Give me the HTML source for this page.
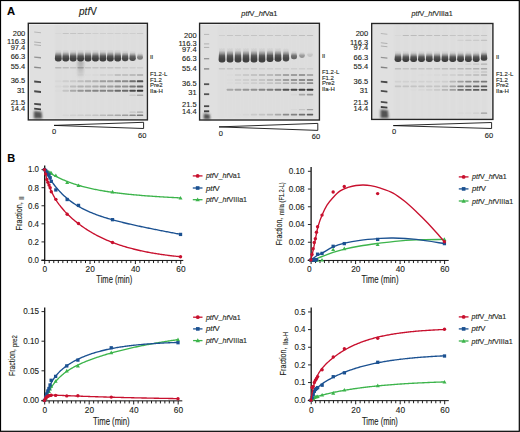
<!DOCTYPE html><html><head><meta charset="utf-8"><style>html,body{margin:0;padding:0;background:#fff;overflow:hidden}svg{display:block}text{font-family:"Liberation Sans",sans-serif;stroke:#231f20;stroke-width:0.12px}</style></head><body>
<svg width="520" height="432" viewBox="0 0 520 432">
<defs>
<filter id="b06" x="-50%" y="-50%" width="200%" height="200%"><feGaussianBlur stdDeviation="0.6"/></filter>
<filter id="b08" x="-50%" y="-50%" width="200%" height="200%"><feGaussianBlur stdDeviation="0.8"/></filter>
<filter id="b12" x="-50%" y="-50%" width="200%" height="200%"><feGaussianBlur stdDeviation="1.2"/></filter>
<linearGradient id="gII" x1="0" y1="0" x2="0" y2="1">
<stop offset="0" stop-color="#4a4a4a" stop-opacity="0"/>
<stop offset="0.22" stop-color="#4a4a4a" stop-opacity="0.12"/>
<stop offset="0.4" stop-color="#4a4a4a" stop-opacity="0.5"/>
<stop offset="0.55" stop-color="#474747" stop-opacity="0.88"/>
<stop offset="0.75" stop-color="#424242" stop-opacity="1"/>
<stop offset="1" stop-color="#404040" stop-opacity="1"/>
</linearGradient>
<linearGradient id="gSm" x1="0" y1="0" x2="0" y2="1">
<stop offset="0" stop-color="#777" stop-opacity="0.9"/>
<stop offset="0.6" stop-color="#888" stop-opacity="0.5"/>
<stop offset="1" stop-color="#999" stop-opacity="0"/>
</linearGradient>
<filter id="b05" x="-50%" y="-50%" width="200%" height="200%"><feGaussianBlur stdDeviation="0.5"/></filter>
</defs>
<rect x="0" y="0" width="520" height="432" fill="#fff"/>
<rect x="28.3" y="23.3" width="119.10000000000001" height="96.60000000000001" fill="#e0e0e0"/>
<rect x="28.900000000000002" y="23.900000000000002" width="117.9" height="95.4" fill="none" stroke="#f4f4f4" stroke-width="1.2"/>
<rect x="55.10" y="24.3" width="6.40" height="94.60000000000001" fill="#d8d8d8" opacity="0.35" filter="url(#b08)"/>
<rect x="62.53" y="24.3" width="6.40" height="94.60000000000001" fill="#d8d8d8" opacity="0.35" filter="url(#b08)"/>
<rect x="69.96" y="24.3" width="6.40" height="94.60000000000001" fill="#d8d8d8" opacity="0.35" filter="url(#b08)"/>
<rect x="77.39" y="24.3" width="6.40" height="94.60000000000001" fill="#d8d8d8" opacity="0.35" filter="url(#b08)"/>
<rect x="84.82" y="24.3" width="6.40" height="94.60000000000001" fill="#d8d8d8" opacity="0.35" filter="url(#b08)"/>
<rect x="92.25" y="24.3" width="6.40" height="94.60000000000001" fill="#d8d8d8" opacity="0.35" filter="url(#b08)"/>
<rect x="99.68" y="24.3" width="6.40" height="94.60000000000001" fill="#d8d8d8" opacity="0.35" filter="url(#b08)"/>
<rect x="107.11" y="24.3" width="6.40" height="94.60000000000001" fill="#d8d8d8" opacity="0.35" filter="url(#b08)"/>
<rect x="114.54" y="24.3" width="6.40" height="94.60000000000001" fill="#d8d8d8" opacity="0.35" filter="url(#b08)"/>
<rect x="121.97" y="24.3" width="6.40" height="94.60000000000001" fill="#d8d8d8" opacity="0.35" filter="url(#b08)"/>
<rect x="129.40" y="24.3" width="6.40" height="94.60000000000001" fill="#d8d8d8" opacity="0.35" filter="url(#b08)"/>
<rect x="136.83" y="24.3" width="6.40" height="94.60000000000001" fill="#d8d8d8" opacity="0.35" filter="url(#b08)"/>
<path d="M34.20,31.55 L41.00,32.25 L41.00,33.25 L34.20,32.55 Z" fill="rgb(183,183,183)" filter="url(#b06)"/>
<path d="M34.20,41.55 L41.00,42.25 L41.00,43.25 L34.20,42.55 Z" fill="rgb(175,175,175)" filter="url(#b06)"/>
<path d="M34.20,44.25 L41.00,44.95 L41.00,45.95 L34.20,45.25 Z" fill="rgb(175,175,175)" filter="url(#b06)"/>
<path d="M34.20,56.40 L41.00,57.10 L41.00,58.40 L34.20,57.70 Z" fill="rgb(149,149,149)" filter="url(#b06)"/>
<path d="M34.20,66.60 L41.00,67.30 L41.00,68.60 L34.20,67.90 Z" fill="rgb(139,139,139)" filter="url(#b06)"/>
<path d="M34.20,80.50 L41.00,81.20 L41.00,83.10 L34.20,82.40 Z" fill="rgb(73,73,73)" filter="url(#b06)"/>
<path d="M34.20,90.30 L41.00,91.00 L41.00,92.90 L34.20,92.20 Z" fill="rgb(73,73,73)" filter="url(#b06)"/>
<path d="M34.20,102.90 L41.00,103.60 L41.00,105.50 L34.20,104.80 Z" fill="rgb(73,73,73)" filter="url(#b06)"/>
<path d="M34.20,107.70 L41.00,108.40 L41.00,110.30 L34.20,109.60 Z" fill="rgb(63,63,63)" filter="url(#b06)"/>
<path d="M33.90,111.00 L41.50,111.80 L42.20,118.60 L33.90,118.60 Z" fill="#3a3a3a" opacity="0.85" filter="url(#b08)"/>
<rect x="55.10" y="33.10" width="6.40" height="1.0" rx="0.6" fill="rgb(215,215,215)" filter="url(#b06)"/>
<rect x="62.53" y="33.10" width="6.40" height="1.0" rx="0.6" fill="rgb(196,196,196)" filter="url(#b06)"/>
<rect x="69.96" y="33.10" width="6.40" height="1.0" rx="0.6" fill="rgb(196,196,196)" filter="url(#b06)"/>
<rect x="77.39" y="33.10" width="6.40" height="1.0" rx="0.6" fill="rgb(196,196,196)" filter="url(#b06)"/>
<rect x="84.82" y="33.10" width="6.40" height="1.0" rx="0.6" fill="rgb(202,202,202)" filter="url(#b06)"/>
<rect x="92.25" y="33.10" width="6.40" height="1.0" rx="0.6" fill="rgb(206,206,206)" filter="url(#b06)"/>
<rect x="99.68" y="33.10" width="6.40" height="1.0" rx="0.6" fill="rgb(206,206,206)" filter="url(#b06)"/>
<rect x="107.11" y="33.10" width="6.40" height="1.0" rx="0.6" fill="rgb(206,206,206)" filter="url(#b06)"/>
<rect x="114.54" y="33.10" width="6.40" height="1.0" rx="0.6" fill="rgb(206,206,206)" filter="url(#b06)"/>
<rect x="121.97" y="33.10" width="6.40" height="1.0" rx="0.6" fill="rgb(206,206,206)" filter="url(#b06)"/>
<rect x="129.40" y="33.10" width="6.40" height="1.0" rx="0.6" fill="rgb(206,206,206)" filter="url(#b06)"/>
<rect x="136.83" y="33.10" width="6.40" height="1.0" rx="0.6" fill="rgb(202,202,202)" filter="url(#b06)"/>
<rect x="55.10" y="66.95" width="6.40" height="1.5" rx="0.6" fill="rgb(183,183,183)" filter="url(#b06)"/>
<rect x="62.53" y="66.95" width="6.40" height="1.5" rx="0.6" fill="rgb(187,187,187)" filter="url(#b06)"/>
<rect x="69.96" y="66.95" width="6.40" height="1.5" rx="0.6" fill="rgb(196,196,196)" filter="url(#b06)"/>
<rect x="77.39" y="66.95" width="6.40" height="1.5" rx="0.6" fill="rgb(168,168,168)" filter="url(#b06)"/>
<rect x="84.82" y="66.95" width="6.40" height="1.5" rx="0.6" fill="rgb(196,196,196)" filter="url(#b06)"/>
<rect x="92.25" y="66.95" width="6.40" height="1.5" rx="0.6" fill="rgb(196,196,196)" filter="url(#b06)"/>
<rect x="99.68" y="66.95" width="6.40" height="1.5" rx="0.6" fill="rgb(196,196,196)" filter="url(#b06)"/>
<rect x="107.11" y="66.95" width="6.40" height="1.5" rx="0.6" fill="rgb(196,196,196)" filter="url(#b06)"/>
<rect x="114.54" y="66.95" width="6.40" height="1.5" rx="0.6" fill="rgb(196,196,196)" filter="url(#b06)"/>
<rect x="121.97" y="66.95" width="6.40" height="1.5" rx="0.6" fill="rgb(202,202,202)" filter="url(#b06)"/>
<rect x="129.40" y="66.95" width="6.40" height="1.5" rx="0.6" fill="rgb(206,206,206)" filter="url(#b06)"/>
<rect x="136.83" y="66.95" width="6.40" height="1.5" rx="0.6" fill="rgb(206,206,206)" filter="url(#b06)"/>
<rect x="77.39" y="74.15" width="6.40" height="1.5" rx="0.6" fill="rgb(213,213,213)" filter="url(#b06)"/>
<rect x="84.82" y="74.15" width="6.40" height="1.5" rx="0.6" fill="rgb(219,219,219)" filter="url(#b06)"/>
<rect x="92.25" y="74.15" width="6.40" height="1.5" rx="0.6" fill="rgb(215,215,215)" filter="url(#b06)"/>
<rect x="99.68" y="74.15" width="6.40" height="1.5" rx="0.6" fill="rgb(206,206,206)" filter="url(#b06)"/>
<rect x="107.11" y="74.15" width="6.40" height="1.5" rx="0.6" fill="rgb(206,206,206)" filter="url(#b06)"/>
<rect x="114.54" y="74.15" width="6.40" height="1.5" rx="0.6" fill="rgb(183,183,183)" filter="url(#b06)"/>
<rect x="121.97" y="74.15" width="6.40" height="1.5" rx="0.6" fill="rgb(187,187,187)" filter="url(#b06)"/>
<rect x="129.40" y="74.15" width="6.40" height="1.5" rx="0.6" fill="rgb(177,177,177)" filter="url(#b06)"/>
<rect x="136.83" y="74.15" width="6.40" height="1.5" rx="0.6" fill="rgb(168,168,168)" filter="url(#b06)"/>
<rect x="55.10" y="80.35" width="6.40" height="1.9" rx="0.6" fill="rgb(215,215,215)" filter="url(#b06)"/>
<rect x="62.53" y="80.35" width="6.40" height="1.9" rx="0.6" fill="rgb(206,206,206)" filter="url(#b06)"/>
<rect x="69.96" y="80.35" width="6.40" height="1.9" rx="0.6" fill="rgb(202,202,202)" filter="url(#b06)"/>
<rect x="77.39" y="80.35" width="6.40" height="1.9" rx="0.6" fill="rgb(190,190,190)" filter="url(#b06)"/>
<rect x="84.82" y="80.35" width="6.40" height="1.9" rx="0.6" fill="rgb(183,183,183)" filter="url(#b06)"/>
<rect x="92.25" y="80.35" width="6.40" height="1.9" rx="0.6" fill="rgb(177,177,177)" filter="url(#b06)"/>
<rect x="99.68" y="80.35" width="6.40" height="1.9" rx="0.6" fill="rgb(158,158,158)" filter="url(#b06)"/>
<rect x="107.11" y="80.35" width="6.40" height="1.9" rx="0.6" fill="rgb(158,158,158)" filter="url(#b06)"/>
<rect x="114.54" y="80.35" width="6.40" height="1.9" rx="0.6" fill="rgb(139,139,139)" filter="url(#b06)"/>
<rect x="121.97" y="80.35" width="6.40" height="1.9" rx="0.6" fill="rgb(139,139,139)" filter="url(#b06)"/>
<rect x="129.40" y="80.35" width="6.40" height="1.9" rx="0.6" fill="rgb(111,111,111)" filter="url(#b06)"/>
<rect x="136.83" y="80.35" width="6.40" height="1.9" rx="0.6" fill="rgb(82,82,82)" filter="url(#b06)"/>
<rect x="55.10" y="85.55" width="6.40" height="1.9" rx="0.6" fill="rgb(215,215,215)" filter="url(#b06)"/>
<rect x="62.53" y="85.55" width="6.40" height="1.9" rx="0.6" fill="rgb(206,206,206)" filter="url(#b06)"/>
<rect x="69.96" y="85.55" width="6.40" height="1.9" rx="0.6" fill="rgb(187,187,187)" filter="url(#b06)"/>
<rect x="77.39" y="85.55" width="6.40" height="1.9" rx="0.6" fill="rgb(177,177,177)" filter="url(#b06)"/>
<rect x="84.82" y="85.55" width="6.40" height="1.9" rx="0.6" fill="rgb(177,177,177)" filter="url(#b06)"/>
<rect x="92.25" y="85.55" width="6.40" height="1.9" rx="0.6" fill="rgb(171,171,171)" filter="url(#b06)"/>
<rect x="99.68" y="85.55" width="6.40" height="1.9" rx="0.6" fill="rgb(158,158,158)" filter="url(#b06)"/>
<rect x="107.11" y="85.55" width="6.40" height="1.9" rx="0.6" fill="rgb(158,158,158)" filter="url(#b06)"/>
<rect x="114.54" y="85.55" width="6.40" height="1.9" rx="0.6" fill="rgb(145,145,145)" filter="url(#b06)"/>
<rect x="121.97" y="85.55" width="6.40" height="1.9" rx="0.6" fill="rgb(145,145,145)" filter="url(#b06)"/>
<rect x="129.40" y="85.55" width="6.40" height="1.9" rx="0.6" fill="rgb(120,120,120)" filter="url(#b06)"/>
<rect x="136.83" y="85.55" width="6.40" height="1.9" rx="0.6" fill="rgb(101,101,101)" filter="url(#b06)"/>
<rect x="55.10" y="89.70" width="6.40" height="2.0" rx="0.6" fill="rgb(219,219,219)" filter="url(#b06)"/>
<rect x="62.53" y="89.70" width="6.40" height="2.0" rx="0.6" fill="rgb(196,196,196)" filter="url(#b06)"/>
<rect x="69.96" y="89.70" width="6.40" height="2.0" rx="0.6" fill="rgb(168,168,168)" filter="url(#b06)"/>
<rect x="77.39" y="89.70" width="6.40" height="2.0" rx="0.6" fill="rgb(149,149,149)" filter="url(#b06)"/>
<rect x="84.82" y="89.70" width="6.40" height="2.0" rx="0.6" fill="rgb(139,139,139)" filter="url(#b06)"/>
<rect x="92.25" y="89.70" width="6.40" height="2.0" rx="0.6" fill="rgb(133,133,133)" filter="url(#b06)"/>
<rect x="99.68" y="89.70" width="6.40" height="2.0" rx="0.6" fill="rgb(130,130,130)" filter="url(#b06)"/>
<rect x="107.11" y="89.70" width="6.40" height="2.0" rx="0.6" fill="rgb(130,130,130)" filter="url(#b06)"/>
<rect x="114.54" y="89.70" width="6.40" height="2.0" rx="0.6" fill="rgb(107,107,107)" filter="url(#b06)"/>
<rect x="121.97" y="89.70" width="6.40" height="2.0" rx="0.6" fill="rgb(107,107,107)" filter="url(#b06)"/>
<rect x="129.40" y="89.70" width="6.40" height="2.0" rx="0.6" fill="rgb(76,76,76)" filter="url(#b06)"/>
<rect x="136.83" y="89.70" width="6.40" height="2.0" rx="0.6" fill="rgb(54,54,54)" filter="url(#b06)"/>
<rect x="129.40" y="94.55" width="6.40" height="1.5" rx="0.6" fill="rgb(202,202,202)" filter="url(#b06)"/>
<rect x="136.83" y="94.55" width="6.40" height="1.5" rx="0.6" fill="rgb(168,168,168)" filter="url(#b06)"/>
<rect x="129.40" y="111.60" width="6.40" height="1.2" rx="0.6" fill="rgb(196,196,196)" filter="url(#b06)"/>
<rect x="136.83" y="111.60" width="6.40" height="1.2" rx="0.6" fill="rgb(168,168,168)" filter="url(#b06)"/>
<rect x="62.53" y="114.55" width="6.40" height="1.5" rx="0.6" fill="rgb(215,215,215)" filter="url(#b06)"/>
<rect x="69.96" y="114.55" width="6.40" height="1.5" rx="0.6" fill="rgb(209,209,209)" filter="url(#b06)"/>
<rect x="77.39" y="114.55" width="6.40" height="1.5" rx="0.6" fill="rgb(206,206,206)" filter="url(#b06)"/>
<rect x="84.82" y="114.55" width="6.40" height="1.5" rx="0.6" fill="rgb(202,202,202)" filter="url(#b06)"/>
<rect x="92.25" y="114.55" width="6.40" height="1.5" rx="0.6" fill="rgb(196,196,196)" filter="url(#b06)"/>
<rect x="99.68" y="114.55" width="6.40" height="1.5" rx="0.6" fill="rgb(187,187,187)" filter="url(#b06)"/>
<rect x="107.11" y="114.55" width="6.40" height="1.5" rx="0.6" fill="rgb(177,177,177)" filter="url(#b06)"/>
<rect x="114.54" y="114.55" width="6.40" height="1.5" rx="0.6" fill="rgb(168,168,168)" filter="url(#b06)"/>
<rect x="121.97" y="114.55" width="6.40" height="1.5" rx="0.6" fill="rgb(158,158,158)" filter="url(#b06)"/>
<rect x="129.40" y="114.55" width="6.40" height="1.5" rx="0.6" fill="rgb(139,139,139)" filter="url(#b06)"/>
<rect x="136.83" y="114.55" width="6.40" height="1.5" rx="0.6" fill="rgb(120,120,120)" filter="url(#b06)"/>
<rect x="77.49" y="61.0" width="6.20" height="18.0" fill="url(#gSm)" opacity="0.55" filter="url(#b08)"/>
<path d="M55.65,49.50 L60.95,49.50 L61.75,59.10 Q61.75,61.50 59.35,61.50 L57.25,61.50 Q54.85,61.50 54.85,59.10 Z" fill="url(#gII)" opacity="1.00" filter="url(#b05)"/>
<path d="M63.08,49.50 L68.38,49.50 L69.18,59.10 Q69.18,61.50 66.78,61.50 L64.68,61.50 Q62.28,61.50 62.28,59.10 Z" fill="url(#gII)" opacity="1.00" filter="url(#b05)"/>
<path d="M70.51,49.50 L75.81,49.50 L76.61,59.10 Q76.61,61.50 74.21,61.50 L72.11,61.50 Q69.71,61.50 69.71,59.10 Z" fill="url(#gII)" opacity="1.00" filter="url(#b05)"/>
<path d="M77.94,49.50 L83.24,49.50 L84.04,59.10 Q84.04,61.50 81.64,61.50 L79.54,61.50 Q77.14,61.50 77.14,59.10 Z" fill="url(#gII)" opacity="1.00" filter="url(#b05)"/>
<path d="M85.37,49.50 L90.67,49.50 L91.47,59.10 Q91.47,61.50 89.07,61.50 L86.97,61.50 Q84.57,61.50 84.57,59.10 Z" fill="url(#gII)" opacity="1.00" filter="url(#b05)"/>
<path d="M92.80,49.50 L98.10,49.50 L98.90,59.10 Q98.90,61.50 96.50,61.50 L94.40,61.50 Q92.00,61.50 92.00,59.10 Z" fill="url(#gII)" opacity="1.00" filter="url(#b05)"/>
<path d="M100.23,49.50 L105.53,49.50 L106.33,59.10 Q106.33,61.50 103.93,61.50 L101.83,61.50 Q99.43,61.50 99.43,59.10 Z" fill="url(#gII)" opacity="1.00" filter="url(#b05)"/>
<path d="M107.66,49.50 L112.96,49.50 L113.76,59.10 Q113.76,61.50 111.36,61.50 L109.26,61.50 Q106.86,61.50 106.86,59.10 Z" fill="url(#gII)" opacity="1.00" filter="url(#b05)"/>
<path d="M115.09,49.50 L120.39,49.50 L121.19,59.10 Q121.19,61.50 118.79,61.50 L116.69,61.50 Q114.29,61.50 114.29,59.10 Z" fill="url(#gII)" opacity="1.00" filter="url(#b05)"/>
<path d="M122.72,50.00 L127.62,50.00 L128.42,58.80 Q128.42,61.20 126.02,61.20 L124.32,61.20 Q121.92,61.20 121.92,58.80 Z" fill="url(#gII)" opacity="0.95" filter="url(#b05)"/>
<path d="M130.15,50.50 L135.05,50.50 L135.85,58.60 Q135.85,61.00 133.45,61.00 L131.75,61.00 Q129.35,61.00 129.35,58.60 Z" fill="url(#gII)" opacity="0.90" filter="url(#b05)"/>
<path d="M137.88,52.00 L142.18,52.00 L142.98,57.40 Q142.98,59.80 140.58,59.80 L139.48,59.80 Q137.08,59.80 137.08,57.40 Z" fill="url(#gII)" opacity="0.62" filter="url(#b05)"/>
<rect x="28.3" y="23.3" width="119.10000000000001" height="96.60000000000001" fill="none" stroke="#262626" stroke-width="1.4"/>
<text x="25.3" y="35.7" font-size="7.5" text-anchor="end" fill="#231f20">200</text>
<text x="25.3" y="43.9" font-size="7.5" text-anchor="end" fill="#231f20">116.3</text>
<text x="25.3" y="49.9" font-size="7.5" text-anchor="end" fill="#231f20">97.4</text>
<text x="25.3" y="59.0" font-size="7.5" text-anchor="end" fill="#231f20">66.3</text>
<text x="25.3" y="69.0" font-size="7.5" text-anchor="end" fill="#231f20">55.4</text>
<text x="25.3" y="83.4" font-size="7.5" text-anchor="end" fill="#231f20">36.5</text>
<text x="25.3" y="92.6" font-size="7.5" text-anchor="end" fill="#231f20">31</text>
<text x="25.3" y="104.6" font-size="7.5" text-anchor="end" fill="#231f20">21.5</text>
<text x="25.3" y="111.1" font-size="7.5" text-anchor="end" fill="#231f20">14.4</text>
<text x="149.9" y="59.1" font-size="6" fill="#231f20">II</text>
<text x="149.9" y="75.6" font-size="6" fill="#231f20">F1.2-L</text>
<text x="149.9" y="81.5" font-size="6" fill="#231f20">F1.2</text>
<text x="149.9" y="87.1" font-size="6" fill="#231f20">Pre2</text>
<text x="149.9" y="92.7" font-size="6" fill="#231f20">IIa-H</text>
<path d="M54,125.4 L143.6,122.3 L143.6,128.5 Z" fill="#fff" stroke="#111" stroke-width="0.9" stroke-linejoin="miter"/>
<text x="54.1" y="133.5" font-size="7.5" text-anchor="middle" fill="#231f20">0</text>
<text x="142.2" y="137.8" font-size="7.5" text-anchor="middle" fill="#231f20">60</text>
<rect x="199.6" y="23.3" width="119.79999999999998" height="96.7" fill="#e0e0e0"/>
<rect x="200.2" y="23.900000000000002" width="118.59999999999998" height="95.5" fill="none" stroke="#f4f4f4" stroke-width="1.2"/>
<rect x="218.80" y="24.3" width="6.40" height="94.7" fill="#d8d8d8" opacity="0.35" filter="url(#b08)"/>
<rect x="226.80" y="24.3" width="6.40" height="94.7" fill="#d8d8d8" opacity="0.35" filter="url(#b08)"/>
<rect x="234.80" y="24.3" width="6.40" height="94.7" fill="#d8d8d8" opacity="0.35" filter="url(#b08)"/>
<rect x="242.80" y="24.3" width="6.40" height="94.7" fill="#d8d8d8" opacity="0.35" filter="url(#b08)"/>
<rect x="250.80" y="24.3" width="6.40" height="94.7" fill="#d8d8d8" opacity="0.35" filter="url(#b08)"/>
<rect x="258.80" y="24.3" width="6.40" height="94.7" fill="#d8d8d8" opacity="0.35" filter="url(#b08)"/>
<rect x="266.80" y="24.3" width="6.40" height="94.7" fill="#d8d8d8" opacity="0.35" filter="url(#b08)"/>
<rect x="274.80" y="24.3" width="6.40" height="94.7" fill="#d8d8d8" opacity="0.35" filter="url(#b08)"/>
<rect x="282.80" y="24.3" width="6.40" height="94.7" fill="#d8d8d8" opacity="0.35" filter="url(#b08)"/>
<rect x="290.80" y="24.3" width="6.40" height="94.7" fill="#d8d8d8" opacity="0.35" filter="url(#b08)"/>
<rect x="298.80" y="24.3" width="6.40" height="94.7" fill="#d8d8d8" opacity="0.35" filter="url(#b08)"/>
<rect x="306.80" y="24.3" width="6.40" height="94.7" fill="#d8d8d8" opacity="0.35" filter="url(#b08)"/>
<path d="M204.00,33.90 L209.20,33.90 L209.20,34.90 L204.00,34.90 Z" fill="rgb(183,183,183)" filter="url(#b06)"/>
<path d="M204.00,43.40 L209.20,43.40 L209.20,44.40 L204.00,44.40 Z" fill="rgb(175,175,175)" filter="url(#b06)"/>
<path d="M204.00,46.90 L209.20,46.90 L209.20,47.90 L204.00,47.90 Z" fill="rgb(175,175,175)" filter="url(#b06)"/>
<path d="M204.00,58.05 L209.20,58.05 L209.20,59.35 L204.00,59.35 Z" fill="rgb(149,149,149)" filter="url(#b06)"/>
<path d="M204.00,68.25 L209.20,68.25 L209.20,69.55 L204.00,69.55 Z" fill="rgb(130,130,130)" filter="url(#b06)"/>
<path d="M204.00,83.30 L209.20,83.30 L209.20,85.10 L204.00,85.10 Z" fill="rgb(82,82,82)" filter="url(#b06)"/>
<path d="M204.00,93.30 L209.20,93.30 L209.20,95.10 L204.00,95.10 Z" fill="rgb(82,82,82)" filter="url(#b06)"/>
<path d="M204.00,105.30 L209.20,105.30 L209.20,107.10 L204.00,107.10 Z" fill="rgb(73,73,73)" filter="url(#b06)"/>
<path d="M204.00,110.35 L209.20,110.35 L209.20,112.25 L204.00,112.25 Z" fill="rgb(63,63,63)" filter="url(#b06)"/>
<path d="M203.70,113.50 L209.70,114.30 L210.40,119.20 L203.70,119.20 Z" fill="#3a3a3a" opacity="0.85" filter="url(#b08)"/>
<rect x="218.80" y="35.00" width="6.40" height="1.0" rx="0.6" fill="rgb(206,206,206)" filter="url(#b06)"/>
<rect x="226.80" y="35.00" width="6.40" height="1.0" rx="0.6" fill="rgb(196,196,196)" filter="url(#b06)"/>
<rect x="234.80" y="35.00" width="6.40" height="1.0" rx="0.6" fill="rgb(196,196,196)" filter="url(#b06)"/>
<rect x="242.80" y="35.00" width="6.40" height="1.0" rx="0.6" fill="rgb(196,196,196)" filter="url(#b06)"/>
<rect x="250.80" y="35.00" width="6.40" height="1.0" rx="0.6" fill="rgb(196,196,196)" filter="url(#b06)"/>
<rect x="258.80" y="35.00" width="6.40" height="1.0" rx="0.6" fill="rgb(196,196,196)" filter="url(#b06)"/>
<rect x="266.80" y="35.00" width="6.40" height="1.0" rx="0.6" fill="rgb(196,196,196)" filter="url(#b06)"/>
<rect x="274.80" y="35.00" width="6.40" height="1.0" rx="0.6" fill="rgb(196,196,196)" filter="url(#b06)"/>
<rect x="282.80" y="35.00" width="6.40" height="1.0" rx="0.6" fill="rgb(196,196,196)" filter="url(#b06)"/>
<rect x="290.80" y="35.00" width="6.40" height="1.0" rx="0.6" fill="rgb(196,196,196)" filter="url(#b06)"/>
<rect x="298.80" y="35.00" width="6.40" height="1.0" rx="0.6" fill="rgb(190,190,190)" filter="url(#b06)"/>
<rect x="306.80" y="35.00" width="6.40" height="1.0" rx="0.6" fill="rgb(190,190,190)" filter="url(#b06)"/>
<rect x="218.80" y="68.00" width="6.40" height="1.6" rx="0.6" fill="rgb(196,196,196)" filter="url(#b06)"/>
<rect x="226.80" y="68.00" width="6.40" height="1.6" rx="0.6" fill="rgb(196,196,196)" filter="url(#b06)"/>
<rect x="234.80" y="68.00" width="6.40" height="1.6" rx="0.6" fill="rgb(196,196,196)" filter="url(#b06)"/>
<rect x="242.80" y="68.00" width="6.40" height="1.6" rx="0.6" fill="rgb(202,202,202)" filter="url(#b06)"/>
<rect x="250.80" y="68.00" width="6.40" height="1.6" rx="0.6" fill="rgb(202,202,202)" filter="url(#b06)"/>
<rect x="258.80" y="68.00" width="6.40" height="1.6" rx="0.6" fill="rgb(206,206,206)" filter="url(#b06)"/>
<rect x="266.80" y="68.00" width="6.40" height="1.6" rx="0.6" fill="rgb(206,206,206)" filter="url(#b06)"/>
<rect x="274.80" y="68.00" width="6.40" height="1.6" rx="0.6" fill="rgb(206,206,206)" filter="url(#b06)"/>
<rect x="282.80" y="68.00" width="6.40" height="1.6" rx="0.6" fill="rgb(206,206,206)" filter="url(#b06)"/>
<rect x="290.80" y="68.00" width="6.40" height="1.6" rx="0.6" fill="rgb(206,206,206)" filter="url(#b06)"/>
<rect x="298.80" y="68.00" width="6.40" height="1.6" rx="0.6" fill="rgb(206,206,206)" filter="url(#b06)"/>
<rect x="306.80" y="68.00" width="6.40" height="1.6" rx="0.6" fill="rgb(206,206,206)" filter="url(#b06)"/>
<rect x="226.80" y="74.10" width="6.40" height="1.8" rx="0.6" fill="rgb(219,219,219)" filter="url(#b06)"/>
<rect x="234.80" y="74.10" width="6.40" height="1.8" rx="0.6" fill="rgb(209,209,209)" filter="url(#b06)"/>
<rect x="242.80" y="74.10" width="6.40" height="1.8" rx="0.6" fill="rgb(202,202,202)" filter="url(#b06)"/>
<rect x="250.80" y="74.10" width="6.40" height="1.8" rx="0.6" fill="rgb(196,196,196)" filter="url(#b06)"/>
<rect x="258.80" y="74.10" width="6.40" height="1.8" rx="0.6" fill="rgb(190,190,190)" filter="url(#b06)"/>
<rect x="266.80" y="74.10" width="6.40" height="1.8" rx="0.6" fill="rgb(187,187,187)" filter="url(#b06)"/>
<rect x="274.80" y="74.10" width="6.40" height="1.8" rx="0.6" fill="rgb(177,177,177)" filter="url(#b06)"/>
<rect x="282.80" y="74.10" width="6.40" height="1.8" rx="0.6" fill="rgb(164,164,164)" filter="url(#b06)"/>
<rect x="290.80" y="74.10" width="6.40" height="1.8" rx="0.6" fill="rgb(158,158,158)" filter="url(#b06)"/>
<rect x="298.80" y="74.10" width="6.40" height="1.8" rx="0.6" fill="rgb(152,152,152)" filter="url(#b06)"/>
<rect x="306.80" y="74.10" width="6.40" height="1.8" rx="0.6" fill="rgb(168,168,168)" filter="url(#b06)"/>
<rect x="226.80" y="78.90" width="6.40" height="2.0" rx="0.6" fill="rgb(219,219,219)" filter="url(#b06)"/>
<rect x="234.80" y="78.90" width="6.40" height="2.0" rx="0.6" fill="rgb(209,209,209)" filter="url(#b06)"/>
<rect x="242.80" y="78.90" width="6.40" height="2.0" rx="0.6" fill="rgb(206,206,206)" filter="url(#b06)"/>
<rect x="250.80" y="78.90" width="6.40" height="2.0" rx="0.6" fill="rgb(202,202,202)" filter="url(#b06)"/>
<rect x="258.80" y="78.90" width="6.40" height="2.0" rx="0.6" fill="rgb(196,196,196)" filter="url(#b06)"/>
<rect x="266.80" y="78.90" width="6.40" height="2.0" rx="0.6" fill="rgb(187,187,187)" filter="url(#b06)"/>
<rect x="274.80" y="78.90" width="6.40" height="2.0" rx="0.6" fill="rgb(177,177,177)" filter="url(#b06)"/>
<rect x="282.80" y="78.90" width="6.40" height="2.0" rx="0.6" fill="rgb(158,158,158)" filter="url(#b06)"/>
<rect x="290.80" y="78.90" width="6.40" height="2.0" rx="0.6" fill="rgb(149,149,149)" filter="url(#b06)"/>
<rect x="298.80" y="78.90" width="6.40" height="2.0" rx="0.6" fill="rgb(139,139,139)" filter="url(#b06)"/>
<rect x="306.80" y="78.90" width="6.40" height="2.0" rx="0.6" fill="rgb(139,139,139)" filter="url(#b06)"/>
<rect x="226.80" y="82.30" width="6.40" height="1.8" rx="0.6" fill="rgb(219,219,219)" filter="url(#b06)"/>
<rect x="234.80" y="82.30" width="6.40" height="1.8" rx="0.6" fill="rgb(213,213,213)" filter="url(#b06)"/>
<rect x="242.80" y="82.30" width="6.40" height="1.8" rx="0.6" fill="rgb(209,209,209)" filter="url(#b06)"/>
<rect x="250.80" y="82.30" width="6.40" height="1.8" rx="0.6" fill="rgb(206,206,206)" filter="url(#b06)"/>
<rect x="258.80" y="82.30" width="6.40" height="1.8" rx="0.6" fill="rgb(202,202,202)" filter="url(#b06)"/>
<rect x="266.80" y="82.30" width="6.40" height="1.8" rx="0.6" fill="rgb(196,196,196)" filter="url(#b06)"/>
<rect x="274.80" y="82.30" width="6.40" height="1.8" rx="0.6" fill="rgb(190,190,190)" filter="url(#b06)"/>
<rect x="282.80" y="82.30" width="6.40" height="1.8" rx="0.6" fill="rgb(177,177,177)" filter="url(#b06)"/>
<rect x="290.80" y="82.30" width="6.40" height="1.8" rx="0.6" fill="rgb(168,168,168)" filter="url(#b06)"/>
<rect x="298.80" y="82.30" width="6.40" height="1.8" rx="0.6" fill="rgb(158,158,158)" filter="url(#b06)"/>
<rect x="306.80" y="82.30" width="6.40" height="1.8" rx="0.6" fill="rgb(139,139,139)" filter="url(#b06)"/>
<rect x="226.80" y="88.75" width="6.40" height="2.1" rx="0.6" fill="rgb(168,168,168)" filter="url(#b06)"/>
<rect x="234.80" y="88.75" width="6.40" height="2.1" rx="0.6" fill="rgb(158,158,158)" filter="url(#b06)"/>
<rect x="242.80" y="88.75" width="6.40" height="2.1" rx="0.6" fill="rgb(149,149,149)" filter="url(#b06)"/>
<rect x="250.80" y="88.75" width="6.40" height="2.1" rx="0.6" fill="rgb(145,145,145)" filter="url(#b06)"/>
<rect x="258.80" y="88.75" width="6.40" height="2.1" rx="0.6" fill="rgb(133,133,133)" filter="url(#b06)"/>
<rect x="266.80" y="88.75" width="6.40" height="2.1" rx="0.6" fill="rgb(126,126,126)" filter="url(#b06)"/>
<rect x="274.80" y="88.75" width="6.40" height="2.1" rx="0.6" fill="rgb(111,111,111)" filter="url(#b06)"/>
<rect x="282.80" y="88.75" width="6.40" height="2.1" rx="0.6" fill="rgb(82,82,82)" filter="url(#b06)"/>
<rect x="290.80" y="88.75" width="6.40" height="2.1" rx="0.6" fill="rgb(69,69,69)" filter="url(#b06)"/>
<rect x="298.80" y="88.75" width="6.40" height="2.1" rx="0.6" fill="rgb(63,63,63)" filter="url(#b06)"/>
<rect x="306.80" y="88.75" width="6.40" height="2.1" rx="0.6" fill="rgb(57,57,57)" filter="url(#b06)"/>
<rect x="290.80" y="93.80" width="6.40" height="1.6" rx="0.6" fill="rgb(215,215,215)" filter="url(#b06)"/>
<rect x="298.80" y="93.80" width="6.40" height="1.6" rx="0.6" fill="rgb(168,168,168)" filter="url(#b06)"/>
<rect x="306.80" y="93.80" width="6.40" height="1.6" rx="0.6" fill="rgb(149,149,149)" filter="url(#b06)"/>
<rect x="290.80" y="108.95" width="6.40" height="1.3" rx="0.6" fill="rgb(215,215,215)" filter="url(#b06)"/>
<rect x="298.80" y="108.95" width="6.40" height="1.3" rx="0.6" fill="rgb(196,196,196)" filter="url(#b06)"/>
<rect x="306.80" y="108.95" width="6.40" height="1.3" rx="0.6" fill="rgb(158,158,158)" filter="url(#b06)"/>
<rect x="234.80" y="113.80" width="6.40" height="1.6" rx="0.6" fill="rgb(219,219,219)" filter="url(#b06)"/>
<rect x="242.80" y="113.80" width="6.40" height="1.6" rx="0.6" fill="rgb(215,215,215)" filter="url(#b06)"/>
<rect x="250.80" y="113.80" width="6.40" height="1.6" rx="0.6" fill="rgb(202,202,202)" filter="url(#b06)"/>
<rect x="258.80" y="113.80" width="6.40" height="1.6" rx="0.6" fill="rgb(196,196,196)" filter="url(#b06)"/>
<rect x="266.80" y="113.80" width="6.40" height="1.6" rx="0.6" fill="rgb(187,187,187)" filter="url(#b06)"/>
<rect x="274.80" y="113.80" width="6.40" height="1.6" rx="0.6" fill="rgb(168,168,168)" filter="url(#b06)"/>
<rect x="282.80" y="113.80" width="6.40" height="1.6" rx="0.6" fill="rgb(139,139,139)" filter="url(#b06)"/>
<rect x="290.80" y="113.80" width="6.40" height="1.6" rx="0.6" fill="rgb(130,130,130)" filter="url(#b06)"/>
<rect x="298.80" y="113.80" width="6.40" height="1.6" rx="0.6" fill="rgb(111,111,111)" filter="url(#b06)"/>
<rect x="306.80" y="113.80" width="6.40" height="1.6" rx="0.6" fill="rgb(92,92,92)" filter="url(#b06)"/>
<path d="M219.35,47.50 L224.65,47.50 L225.45,60.00 Q225.45,62.40 223.05,62.40 L220.95,62.40 Q218.55,62.40 218.55,60.00 Z" fill="url(#gII)" opacity="1.00" filter="url(#b05)"/>
<path d="M227.35,47.50 L232.65,47.50 L233.45,60.00 Q233.45,62.40 231.05,62.40 L228.95,62.40 Q226.55,62.40 226.55,60.00 Z" fill="url(#gII)" opacity="1.00" filter="url(#b05)"/>
<path d="M235.35,47.50 L240.65,47.50 L241.45,60.00 Q241.45,62.40 239.05,62.40 L236.95,62.40 Q234.55,62.40 234.55,60.00 Z" fill="url(#gII)" opacity="1.00" filter="url(#b05)"/>
<path d="M243.35,47.50 L248.65,47.50 L249.45,60.00 Q249.45,62.40 247.05,62.40 L244.95,62.40 Q242.55,62.40 242.55,60.00 Z" fill="url(#gII)" opacity="1.00" filter="url(#b05)"/>
<path d="M251.35,47.50 L256.65,47.50 L257.45,60.00 Q257.45,62.40 255.05,62.40 L252.95,62.40 Q250.55,62.40 250.55,60.00 Z" fill="url(#gII)" opacity="1.00" filter="url(#b05)"/>
<path d="M259.35,47.50 L264.65,47.50 L265.45,60.00 Q265.45,62.40 263.05,62.40 L260.95,62.40 Q258.55,62.40 258.55,60.00 Z" fill="url(#gII)" opacity="1.00" filter="url(#b05)"/>
<path d="M267.35,47.50 L272.65,47.50 L273.45,59.60 Q273.45,62.00 271.05,62.00 L268.95,62.00 Q266.55,62.00 266.55,59.60 Z" fill="url(#gII)" opacity="1.00" filter="url(#b05)"/>
<path d="M275.35,47.50 L280.65,47.50 L281.45,59.30 Q281.45,61.70 279.05,61.70 L276.95,61.70 Q274.55,61.70 274.55,59.30 Z" fill="url(#gII)" opacity="1.00" filter="url(#b05)"/>
<path d="M283.55,48.00 L288.45,48.00 L289.25,59.00 Q289.25,61.40 286.85,61.40 L285.15,61.40 Q282.75,61.40 282.75,59.00 Z" fill="url(#gII)" opacity="0.95" filter="url(#b05)"/>
<path d="M291.75,50.50 L296.25,50.50 L297.05,56.90 Q297.05,59.30 294.65,59.30 L293.35,59.30 Q290.95,59.30 290.95,56.90 Z" fill="url(#gII)" opacity="0.75" filter="url(#b05)"/>
<path d="M299.95,51.50 L304.05,51.50 L304.85,55.60 Q304.85,58.00 302.45,58.00 L301.55,58.00 Q299.15,58.00 299.15,55.60 Z" fill="url(#gII)" opacity="0.45" filter="url(#b05)"/>
<path d="M307.95,51.50 L312.05,51.50 L312.85,54.60 Q312.85,57.00 310.45,57.00 L309.55,57.00 Q307.15,57.00 307.15,54.60 Z" fill="url(#gII)" opacity="0.15" filter="url(#b05)"/>
<rect x="199.6" y="23.3" width="119.79999999999998" height="96.7" fill="none" stroke="#262626" stroke-width="1.4"/>
<text x="196.6" y="37.8" font-size="7.5" text-anchor="end" fill="#231f20">200</text>
<text x="196.6" y="46.1" font-size="7.5" text-anchor="end" fill="#231f20">116.3</text>
<text x="196.6" y="51.7" font-size="7.5" text-anchor="end" fill="#231f20">97.4</text>
<text x="196.6" y="61.2" font-size="7.5" text-anchor="end" fill="#231f20">66.3</text>
<text x="196.6" y="71.3" font-size="7.5" text-anchor="end" fill="#231f20">55.4</text>
<text x="196.6" y="85.7" font-size="7.5" text-anchor="end" fill="#231f20">36.5</text>
<text x="196.6" y="95.4" font-size="7.5" text-anchor="end" fill="#231f20">31</text>
<text x="196.6" y="107.0" font-size="7.5" text-anchor="end" fill="#231f20">21.5</text>
<text x="196.6" y="113.5" font-size="7.5" text-anchor="end" fill="#231f20">14.4</text>
<text x="321.9" y="57.8" font-size="6" fill="#231f20">II</text>
<text x="321.9" y="74.0" font-size="6" fill="#231f20">F1.2-L</text>
<text x="321.9" y="79.7" font-size="6" fill="#231f20">F1.2</text>
<text x="321.9" y="85.4" font-size="6" fill="#231f20">Pre2</text>
<text x="321.9" y="91.1" font-size="6" fill="#231f20">IIa-H</text>
<path d="M219,126.9 L317.8,123.4 L317.8,130.4 Z" fill="#fff" stroke="#111" stroke-width="0.9" stroke-linejoin="miter"/>
<text x="220.9" y="135.5" font-size="7.5" text-anchor="middle" fill="#231f20">0</text>
<text x="315.9" y="138.8" font-size="7.5" text-anchor="middle" fill="#231f20">60</text>
<rect x="371.7" y="23.5" width="121.19999999999999" height="95.9" fill="#e0e0e0"/>
<rect x="372.3" y="24.1" width="119.99999999999999" height="94.7" fill="none" stroke="#f4f4f4" stroke-width="1.2"/>
<rect x="394.80" y="24.5" width="6.40" height="93.9" fill="#d8d8d8" opacity="0.35" filter="url(#b08)"/>
<rect x="402.62" y="24.5" width="6.40" height="93.9" fill="#d8d8d8" opacity="0.35" filter="url(#b08)"/>
<rect x="410.44" y="24.5" width="6.40" height="93.9" fill="#d8d8d8" opacity="0.35" filter="url(#b08)"/>
<rect x="418.26" y="24.5" width="6.40" height="93.9" fill="#d8d8d8" opacity="0.35" filter="url(#b08)"/>
<rect x="426.08" y="24.5" width="6.40" height="93.9" fill="#d8d8d8" opacity="0.35" filter="url(#b08)"/>
<rect x="433.90" y="24.5" width="6.40" height="93.9" fill="#d8d8d8" opacity="0.35" filter="url(#b08)"/>
<rect x="441.72" y="24.5" width="6.40" height="93.9" fill="#d8d8d8" opacity="0.35" filter="url(#b08)"/>
<rect x="449.54" y="24.5" width="6.40" height="93.9" fill="#d8d8d8" opacity="0.35" filter="url(#b08)"/>
<rect x="457.36" y="24.5" width="6.40" height="93.9" fill="#d8d8d8" opacity="0.35" filter="url(#b08)"/>
<rect x="465.18" y="24.5" width="6.40" height="93.9" fill="#d8d8d8" opacity="0.35" filter="url(#b08)"/>
<rect x="473.00" y="24.5" width="6.40" height="93.9" fill="#d8d8d8" opacity="0.35" filter="url(#b08)"/>
<rect x="480.82" y="24.5" width="6.40" height="93.9" fill="#d8d8d8" opacity="0.35" filter="url(#b08)"/>
<path d="M380.80,32.95 L387.40,33.65 L387.40,34.65 L380.80,33.95 Z" fill="rgb(183,183,183)" filter="url(#b06)"/>
<path d="M380.80,42.25 L387.40,42.95 L387.40,43.95 L380.80,43.25 Z" fill="rgb(175,175,175)" filter="url(#b06)"/>
<path d="M380.80,45.45 L387.40,46.15 L387.40,47.15 L380.80,46.45 Z" fill="rgb(175,175,175)" filter="url(#b06)"/>
<path d="M380.80,56.70 L387.40,57.40 L387.40,58.70 L380.80,58.00 Z" fill="rgb(149,149,149)" filter="url(#b06)"/>
<path d="M380.80,66.60 L387.40,67.30 L387.40,68.60 L380.80,67.90 Z" fill="rgb(130,130,130)" filter="url(#b06)"/>
<path d="M380.80,80.65 L387.40,81.35 L387.40,83.15 L380.80,82.45 Z" fill="rgb(73,73,73)" filter="url(#b06)"/>
<path d="M380.80,89.95 L387.40,90.65 L387.40,92.45 L380.80,91.75 Z" fill="rgb(73,73,73)" filter="url(#b06)"/>
<path d="M380.80,101.05 L387.40,101.75 L387.40,103.55 L380.80,102.85 Z" fill="rgb(73,73,73)" filter="url(#b06)"/>
<path d="M380.80,106.00 L387.40,106.70 L387.40,108.60 L380.80,107.90 Z" fill="rgb(63,63,63)" filter="url(#b06)"/>
<path d="M380.50,109.50 L387.90,110.30 L388.60,118.00 L380.50,118.00 Z" fill="#3a3a3a" opacity="0.85" filter="url(#b08)"/>
<rect x="394.80" y="35.00" width="6.40" height="1.0" rx="0.6" fill="rgb(215,215,215)" filter="url(#b06)"/>
<rect x="402.62" y="35.00" width="6.40" height="1.0" rx="0.6" fill="rgb(187,187,187)" filter="url(#b06)"/>
<rect x="410.44" y="35.00" width="6.40" height="1.0" rx="0.6" fill="rgb(187,187,187)" filter="url(#b06)"/>
<rect x="418.26" y="35.00" width="6.40" height="1.0" rx="0.6" fill="rgb(187,187,187)" filter="url(#b06)"/>
<rect x="426.08" y="35.00" width="6.40" height="1.0" rx="0.6" fill="rgb(190,190,190)" filter="url(#b06)"/>
<rect x="433.90" y="35.00" width="6.40" height="1.0" rx="0.6" fill="rgb(190,190,190)" filter="url(#b06)"/>
<rect x="441.72" y="35.00" width="6.40" height="1.0" rx="0.6" fill="rgb(190,190,190)" filter="url(#b06)"/>
<rect x="449.54" y="35.00" width="6.40" height="1.0" rx="0.6" fill="rgb(196,196,196)" filter="url(#b06)"/>
<rect x="457.36" y="35.00" width="6.40" height="1.0" rx="0.6" fill="rgb(196,196,196)" filter="url(#b06)"/>
<rect x="465.18" y="35.00" width="6.40" height="1.0" rx="0.6" fill="rgb(196,196,196)" filter="url(#b06)"/>
<rect x="473.00" y="35.00" width="6.40" height="1.0" rx="0.6" fill="rgb(196,196,196)" filter="url(#b06)"/>
<rect x="480.82" y="35.00" width="6.40" height="1.0" rx="0.6" fill="rgb(196,196,196)" filter="url(#b06)"/>
<rect x="457.36" y="39.80" width="6.40" height="1.0" rx="0.6" fill="rgb(206,206,206)" filter="url(#b06)"/>
<rect x="465.18" y="39.80" width="6.40" height="1.0" rx="0.6" fill="rgb(196,196,196)" filter="url(#b06)"/>
<rect x="473.00" y="39.80" width="6.40" height="1.0" rx="0.6" fill="rgb(196,196,196)" filter="url(#b06)"/>
<rect x="480.82" y="39.80" width="6.40" height="1.0" rx="0.6" fill="rgb(187,187,187)" filter="url(#b06)"/>
<rect x="457.36" y="63.60" width="6.40" height="1.2" rx="0.6" fill="rgb(215,215,215)" filter="url(#b06)"/>
<rect x="465.18" y="63.60" width="6.40" height="1.2" rx="0.6" fill="rgb(206,206,206)" filter="url(#b06)"/>
<rect x="473.00" y="63.60" width="6.40" height="1.2" rx="0.6" fill="rgb(196,196,196)" filter="url(#b06)"/>
<rect x="480.82" y="63.60" width="6.40" height="1.2" rx="0.6" fill="rgb(177,177,177)" filter="url(#b06)"/>
<rect x="394.80" y="68.05" width="6.40" height="1.5" rx="0.6" fill="rgb(190,190,190)" filter="url(#b06)"/>
<rect x="402.62" y="68.05" width="6.40" height="1.5" rx="0.6" fill="rgb(196,196,196)" filter="url(#b06)"/>
<rect x="410.44" y="68.05" width="6.40" height="1.5" rx="0.6" fill="rgb(196,196,196)" filter="url(#b06)"/>
<rect x="418.26" y="68.05" width="6.40" height="1.5" rx="0.6" fill="rgb(196,196,196)" filter="url(#b06)"/>
<rect x="426.08" y="68.05" width="6.40" height="1.5" rx="0.6" fill="rgb(196,196,196)" filter="url(#b06)"/>
<rect x="433.90" y="68.05" width="6.40" height="1.5" rx="0.6" fill="rgb(196,196,196)" filter="url(#b06)"/>
<rect x="441.72" y="68.05" width="6.40" height="1.5" rx="0.6" fill="rgb(190,190,190)" filter="url(#b06)"/>
<rect x="449.54" y="68.05" width="6.40" height="1.5" rx="0.6" fill="rgb(187,187,187)" filter="url(#b06)"/>
<rect x="457.36" y="68.05" width="6.40" height="1.5" rx="0.6" fill="rgb(183,183,183)" filter="url(#b06)"/>
<rect x="465.18" y="68.05" width="6.40" height="1.5" rx="0.6" fill="rgb(183,183,183)" filter="url(#b06)"/>
<rect x="473.00" y="68.05" width="6.40" height="1.5" rx="0.6" fill="rgb(177,177,177)" filter="url(#b06)"/>
<rect x="480.82" y="68.05" width="6.40" height="1.5" rx="0.6" fill="rgb(168,168,168)" filter="url(#b06)"/>
<rect x="457.36" y="71.40" width="6.40" height="1.2" rx="0.6" fill="rgb(215,215,215)" filter="url(#b06)"/>
<rect x="465.18" y="71.40" width="6.40" height="1.2" rx="0.6" fill="rgb(215,215,215)" filter="url(#b06)"/>
<rect x="473.00" y="71.40" width="6.40" height="1.2" rx="0.6" fill="rgb(206,206,206)" filter="url(#b06)"/>
<rect x="480.82" y="71.40" width="6.40" height="1.2" rx="0.6" fill="rgb(187,187,187)" filter="url(#b06)"/>
<rect x="418.26" y="74.30" width="6.40" height="1.4" rx="0.6" fill="rgb(219,219,219)" filter="url(#b06)"/>
<rect x="426.08" y="74.30" width="6.40" height="1.4" rx="0.6" fill="rgb(219,219,219)" filter="url(#b06)"/>
<rect x="433.90" y="74.30" width="6.40" height="1.4" rx="0.6" fill="rgb(215,215,215)" filter="url(#b06)"/>
<rect x="441.72" y="74.30" width="6.40" height="1.4" rx="0.6" fill="rgb(209,209,209)" filter="url(#b06)"/>
<rect x="449.54" y="74.30" width="6.40" height="1.4" rx="0.6" fill="rgb(206,206,206)" filter="url(#b06)"/>
<rect x="457.36" y="74.30" width="6.40" height="1.4" rx="0.6" fill="rgb(196,196,196)" filter="url(#b06)"/>
<rect x="465.18" y="74.30" width="6.40" height="1.4" rx="0.6" fill="rgb(190,190,190)" filter="url(#b06)"/>
<rect x="473.00" y="74.30" width="6.40" height="1.4" rx="0.6" fill="rgb(187,187,187)" filter="url(#b06)"/>
<rect x="480.82" y="74.30" width="6.40" height="1.4" rx="0.6" fill="rgb(177,177,177)" filter="url(#b06)"/>
<rect x="394.80" y="80.75" width="6.40" height="1.7" rx="0.6" fill="rgb(209,209,209)" filter="url(#b06)"/>
<rect x="402.62" y="80.75" width="6.40" height="1.7" rx="0.6" fill="rgb(209,209,209)" filter="url(#b06)"/>
<rect x="410.44" y="80.75" width="6.40" height="1.7" rx="0.6" fill="rgb(209,209,209)" filter="url(#b06)"/>
<rect x="418.26" y="80.75" width="6.40" height="1.7" rx="0.6" fill="rgb(209,209,209)" filter="url(#b06)"/>
<rect x="426.08" y="80.75" width="6.40" height="1.7" rx="0.6" fill="rgb(209,209,209)" filter="url(#b06)"/>
<rect x="433.90" y="80.75" width="6.40" height="1.7" rx="0.6" fill="rgb(209,209,209)" filter="url(#b06)"/>
<rect x="441.72" y="80.75" width="6.40" height="1.7" rx="0.6" fill="rgb(206,206,206)" filter="url(#b06)"/>
<rect x="449.54" y="80.75" width="6.40" height="1.7" rx="0.6" fill="rgb(183,183,183)" filter="url(#b06)"/>
<rect x="457.36" y="80.75" width="6.40" height="1.7" rx="0.6" fill="rgb(158,158,158)" filter="url(#b06)"/>
<rect x="465.18" y="80.75" width="6.40" height="1.7" rx="0.6" fill="rgb(139,139,139)" filter="url(#b06)"/>
<rect x="473.00" y="80.75" width="6.40" height="1.7" rx="0.6" fill="rgb(130,130,130)" filter="url(#b06)"/>
<rect x="480.82" y="80.75" width="6.40" height="1.7" rx="0.6" fill="rgb(120,120,120)" filter="url(#b06)"/>
<rect x="394.80" y="85.45" width="6.40" height="1.7" rx="0.6" fill="rgb(196,196,196)" filter="url(#b06)"/>
<rect x="402.62" y="85.45" width="6.40" height="1.7" rx="0.6" fill="rgb(196,196,196)" filter="url(#b06)"/>
<rect x="410.44" y="85.45" width="6.40" height="1.7" rx="0.6" fill="rgb(196,196,196)" filter="url(#b06)"/>
<rect x="418.26" y="85.45" width="6.40" height="1.7" rx="0.6" fill="rgb(196,196,196)" filter="url(#b06)"/>
<rect x="426.08" y="85.45" width="6.40" height="1.7" rx="0.6" fill="rgb(196,196,196)" filter="url(#b06)"/>
<rect x="433.90" y="85.45" width="6.40" height="1.7" rx="0.6" fill="rgb(196,196,196)" filter="url(#b06)"/>
<rect x="441.72" y="85.45" width="6.40" height="1.7" rx="0.6" fill="rgb(187,187,187)" filter="url(#b06)"/>
<rect x="449.54" y="85.45" width="6.40" height="1.7" rx="0.6" fill="rgb(164,164,164)" filter="url(#b06)"/>
<rect x="457.36" y="85.45" width="6.40" height="1.7" rx="0.6" fill="rgb(120,120,120)" filter="url(#b06)"/>
<rect x="465.18" y="85.45" width="6.40" height="1.7" rx="0.6" fill="rgb(111,111,111)" filter="url(#b06)"/>
<rect x="473.00" y="85.45" width="6.40" height="1.7" rx="0.6" fill="rgb(101,101,101)" filter="url(#b06)"/>
<rect x="480.82" y="85.45" width="6.40" height="1.7" rx="0.6" fill="rgb(92,92,92)" filter="url(#b06)"/>
<rect x="410.44" y="89.00" width="6.40" height="1.8" rx="0.6" fill="rgb(219,219,219)" filter="url(#b06)"/>
<rect x="418.26" y="89.00" width="6.40" height="1.8" rx="0.6" fill="rgb(215,215,215)" filter="url(#b06)"/>
<rect x="426.08" y="89.00" width="6.40" height="1.8" rx="0.6" fill="rgb(209,209,209)" filter="url(#b06)"/>
<rect x="433.90" y="89.00" width="6.40" height="1.8" rx="0.6" fill="rgb(202,202,202)" filter="url(#b06)"/>
<rect x="441.72" y="89.00" width="6.40" height="1.8" rx="0.6" fill="rgb(183,183,183)" filter="url(#b06)"/>
<rect x="449.54" y="89.00" width="6.40" height="1.8" rx="0.6" fill="rgb(158,158,158)" filter="url(#b06)"/>
<rect x="457.36" y="89.00" width="6.40" height="1.8" rx="0.6" fill="rgb(111,111,111)" filter="url(#b06)"/>
<rect x="465.18" y="89.00" width="6.40" height="1.8" rx="0.6" fill="rgb(101,101,101)" filter="url(#b06)"/>
<rect x="473.00" y="89.00" width="6.40" height="1.8" rx="0.6" fill="rgb(92,92,92)" filter="url(#b06)"/>
<rect x="480.82" y="89.00" width="6.40" height="1.8" rx="0.6" fill="rgb(88,88,88)" filter="url(#b06)"/>
<rect x="457.36" y="112.60" width="6.40" height="1.2" rx="0.6" fill="rgb(215,215,215)" filter="url(#b06)"/>
<rect x="465.18" y="112.60" width="6.40" height="1.2" rx="0.6" fill="rgb(215,215,215)" filter="url(#b06)"/>
<rect x="473.00" y="112.60" width="6.40" height="1.2" rx="0.6" fill="rgb(206,206,206)" filter="url(#b06)"/>
<rect x="480.82" y="112.60" width="6.40" height="1.2" rx="0.6" fill="rgb(158,158,158)" filter="url(#b06)"/>
<path d="M395.35,50.60 L400.65,50.60 L401.45,59.60 Q401.45,62.00 399.05,62.00 L396.95,62.00 Q394.55,62.00 394.55,59.60 Z" fill="url(#gII)" opacity="1.00" filter="url(#b05)"/>
<path d="M403.17,50.60 L408.47,50.60 L409.27,59.60 Q409.27,62.00 406.87,62.00 L404.77,62.00 Q402.37,62.00 402.37,59.60 Z" fill="url(#gII)" opacity="1.00" filter="url(#b05)"/>
<path d="M410.99,50.60 L416.29,50.60 L417.09,59.60 Q417.09,62.00 414.69,62.00 L412.59,62.00 Q410.19,62.00 410.19,59.60 Z" fill="url(#gII)" opacity="1.00" filter="url(#b05)"/>
<path d="M418.81,50.60 L424.11,50.60 L424.91,59.60 Q424.91,62.00 422.51,62.00 L420.41,62.00 Q418.01,62.00 418.01,59.60 Z" fill="url(#gII)" opacity="1.00" filter="url(#b05)"/>
<path d="M426.63,50.60 L431.93,50.60 L432.73,59.60 Q432.73,62.00 430.33,62.00 L428.23,62.00 Q425.83,62.00 425.83,59.60 Z" fill="url(#gII)" opacity="1.00" filter="url(#b05)"/>
<path d="M434.45,50.60 L439.75,50.60 L440.55,59.60 Q440.55,62.00 438.15,62.00 L436.05,62.00 Q433.65,62.00 433.65,59.60 Z" fill="url(#gII)" opacity="1.00" filter="url(#b05)"/>
<path d="M442.27,50.60 L447.57,50.60 L448.37,59.60 Q448.37,62.00 445.97,62.00 L443.87,62.00 Q441.47,62.00 441.47,59.60 Z" fill="url(#gII)" opacity="1.00" filter="url(#b05)"/>
<path d="M450.09,50.60 L455.39,50.60 L456.19,59.60 Q456.19,62.00 453.79,62.00 L451.69,62.00 Q449.29,62.00 449.29,59.60 Z" fill="url(#gII)" opacity="1.00" filter="url(#b05)"/>
<path d="M457.91,50.60 L463.21,50.60 L464.01,59.60 Q464.01,62.00 461.61,62.00 L459.51,62.00 Q457.11,62.00 457.11,59.60 Z" fill="url(#gII)" opacity="1.00" filter="url(#b05)"/>
<path d="M465.73,50.60 L471.03,50.60 L471.83,59.60 Q471.83,62.00 469.43,62.00 L467.33,62.00 Q464.93,62.00 464.93,59.60 Z" fill="url(#gII)" opacity="1.00" filter="url(#b05)"/>
<path d="M473.55,50.60 L478.85,50.60 L479.65,59.60 Q479.65,62.00 477.25,62.00 L475.15,62.00 Q472.75,62.00 472.75,59.60 Z" fill="url(#gII)" opacity="1.00" filter="url(#b05)"/>
<path d="M481.57,49.80 L486.47,49.80 L487.27,58.40 Q487.27,60.80 484.87,60.80 L483.17,60.80 Q480.77,60.80 480.77,58.40 Z" fill="url(#gII)" opacity="1.00" filter="url(#b05)"/>
<rect x="371.7" y="23.5" width="121.19999999999999" height="95.9" fill="none" stroke="#262626" stroke-width="1.4"/>
<text x="368.2" y="36.2" font-size="7.5" text-anchor="end" fill="#231f20">200</text>
<text x="368.2" y="44.6" font-size="7.5" text-anchor="end" fill="#231f20">116.3</text>
<text x="368.2" y="50.1" font-size="7.5" text-anchor="end" fill="#231f20">97.4</text>
<text x="368.2" y="59.8" font-size="7.5" text-anchor="end" fill="#231f20">66.3</text>
<text x="368.2" y="69.4" font-size="7.5" text-anchor="end" fill="#231f20">55.4</text>
<text x="368.2" y="83.6" font-size="7.5" text-anchor="end" fill="#231f20">36.5</text>
<text x="368.2" y="92.9" font-size="7.5" text-anchor="end" fill="#231f20">31</text>
<text x="368.2" y="104.9" font-size="7.5" text-anchor="end" fill="#231f20">21.5</text>
<text x="368.2" y="111.2" font-size="7.5" text-anchor="end" fill="#231f20">14.4</text>
<text x="495.9" y="59.1" font-size="6" fill="#231f20">II</text>
<text x="495.9" y="75.6" font-size="6" fill="#231f20">F1.2-L</text>
<text x="495.9" y="81.5" font-size="6" fill="#231f20">F1.2</text>
<text x="495.9" y="87.1" font-size="6" fill="#231f20">Pre2</text>
<text x="495.9" y="92.7" font-size="6" fill="#231f20">IIa-H</text>
<path d="M393.3,125.6 L491.6,122.5 L491.6,128.5 Z" fill="#fff" stroke="#111" stroke-width="0.9" stroke-linejoin="miter"/>
<text x="394.2" y="134" font-size="7.5" text-anchor="middle" fill="#231f20">0</text>
<text x="489" y="137.8" font-size="7.5" text-anchor="middle" fill="#231f20">60</text>
<text x="79.0" y="14.8" font-size="10.2" textLength="17.9" lengthAdjust="spacingAndGlyphs" fill="#231f20"><tspan font-style="italic">ptf</tspan><tspan>V</tspan></text>
<text x="241.3" y="15.9" font-size="7.3" textLength="36.2" lengthAdjust="spacingAndGlyphs" fill="#231f20"><tspan font-style="italic">ptf</tspan><tspan>V</tspan><tspan dy="-0.9">_</tspan><tspan font-style="italic" dy="0.9">hf</tspan><tspan>Va1</tspan></text>
<text x="411.5" y="15.9" font-size="7.2" textLength="41.3" lengthAdjust="spacingAndGlyphs" fill="#231f20"><tspan font-style="italic">ptf</tspan><tspan>V</tspan><tspan dy="-0.9">_</tspan><tspan font-style="italic" dy="0.9">hf</tspan><tspan>VIIIa1</tspan></text>
<text x="7.1" y="14.8" font-size="11" font-weight="bold" textLength="8.1" lengthAdjust="spacingAndGlyphs" fill="#000">A</text>
<text x="7.2" y="162.0" font-size="11" font-weight="bold" fill="#000">B</text>
<line x1="44.7" y1="165.4" x2="44.7" y2="260.95" stroke="#111" stroke-width="1.3"/>
<line x1="41.3" y1="260.45" x2="183.3" y2="260.45" stroke="#111" stroke-width="1.0"/>
<line x1="41.5" y1="260.0" x2="44.5" y2="260.0" stroke="#111" stroke-width="0.9"/>
<text x="39.0" y="262.8" font-size="8.5" text-anchor="end" textLength="11.0" lengthAdjust="spacingAndGlyphs" fill="#231f20">0.0</text>
<line x1="41.5" y1="241.92" x2="44.5" y2="241.92" stroke="#111" stroke-width="0.9"/>
<text x="39.0" y="244.7" font-size="8.5" text-anchor="end" textLength="11.0" lengthAdjust="spacingAndGlyphs" fill="#231f20">0.2</text>
<line x1="41.5" y1="223.84" x2="44.5" y2="223.84" stroke="#111" stroke-width="0.9"/>
<text x="39.0" y="226.6" font-size="8.5" text-anchor="end" textLength="11.0" lengthAdjust="spacingAndGlyphs" fill="#231f20">0.4</text>
<line x1="41.5" y1="205.76" x2="44.5" y2="205.76" stroke="#111" stroke-width="0.9"/>
<text x="39.0" y="208.6" font-size="8.5" text-anchor="end" textLength="11.0" lengthAdjust="spacingAndGlyphs" fill="#231f20">0.6</text>
<line x1="41.5" y1="187.68" x2="44.5" y2="187.68" stroke="#111" stroke-width="0.9"/>
<text x="39.0" y="190.5" font-size="8.5" text-anchor="end" textLength="11.0" lengthAdjust="spacingAndGlyphs" fill="#231f20">0.8</text>
<line x1="41.5" y1="169.6" x2="44.5" y2="169.6" stroke="#111" stroke-width="0.9"/>
<text x="39.0" y="172.4" font-size="8.5" text-anchor="end" textLength="11.0" lengthAdjust="spacingAndGlyphs" fill="#231f20">1.0</text>
<line x1="44.70" y1="260.45" x2="44.70" y2="264.05" stroke="#111" stroke-width="0.95"/>
<line x1="49.23" y1="260.45" x2="49.23" y2="263.05" stroke="#111" stroke-width="0.95"/>
<line x1="53.77" y1="260.45" x2="53.77" y2="263.05" stroke="#111" stroke-width="0.95"/>
<line x1="58.30" y1="260.45" x2="58.30" y2="263.05" stroke="#111" stroke-width="0.95"/>
<line x1="62.84" y1="260.45" x2="62.84" y2="263.05" stroke="#111" stroke-width="0.95"/>
<line x1="67.37" y1="260.45" x2="67.37" y2="263.05" stroke="#111" stroke-width="0.95"/>
<line x1="71.90" y1="260.45" x2="71.90" y2="263.05" stroke="#111" stroke-width="0.95"/>
<line x1="76.44" y1="260.45" x2="76.44" y2="263.05" stroke="#111" stroke-width="0.95"/>
<line x1="80.97" y1="260.45" x2="80.97" y2="263.05" stroke="#111" stroke-width="0.95"/>
<line x1="85.51" y1="260.45" x2="85.51" y2="263.05" stroke="#111" stroke-width="0.95"/>
<line x1="90.04" y1="260.45" x2="90.04" y2="264.05" stroke="#111" stroke-width="0.95"/>
<line x1="94.57" y1="260.45" x2="94.57" y2="263.05" stroke="#111" stroke-width="0.95"/>
<line x1="99.11" y1="260.45" x2="99.11" y2="263.05" stroke="#111" stroke-width="0.95"/>
<line x1="103.64" y1="260.45" x2="103.64" y2="263.05" stroke="#111" stroke-width="0.95"/>
<line x1="108.18" y1="260.45" x2="108.18" y2="263.05" stroke="#111" stroke-width="0.95"/>
<line x1="112.71" y1="260.45" x2="112.71" y2="263.05" stroke="#111" stroke-width="0.95"/>
<line x1="117.24" y1="260.45" x2="117.24" y2="263.05" stroke="#111" stroke-width="0.95"/>
<line x1="121.78" y1="260.45" x2="121.78" y2="263.05" stroke="#111" stroke-width="0.95"/>
<line x1="126.31" y1="260.45" x2="126.31" y2="263.05" stroke="#111" stroke-width="0.95"/>
<line x1="130.85" y1="260.45" x2="130.85" y2="263.05" stroke="#111" stroke-width="0.95"/>
<line x1="135.38" y1="260.45" x2="135.38" y2="264.05" stroke="#111" stroke-width="0.95"/>
<line x1="139.91" y1="260.45" x2="139.91" y2="263.05" stroke="#111" stroke-width="0.95"/>
<line x1="144.45" y1="260.45" x2="144.45" y2="263.05" stroke="#111" stroke-width="0.95"/>
<line x1="148.98" y1="260.45" x2="148.98" y2="263.05" stroke="#111" stroke-width="0.95"/>
<line x1="153.52" y1="260.45" x2="153.52" y2="263.05" stroke="#111" stroke-width="0.95"/>
<line x1="158.05" y1="260.45" x2="158.05" y2="263.05" stroke="#111" stroke-width="0.95"/>
<line x1="162.58" y1="260.45" x2="162.58" y2="263.05" stroke="#111" stroke-width="0.95"/>
<line x1="167.12" y1="260.45" x2="167.12" y2="263.05" stroke="#111" stroke-width="0.95"/>
<line x1="171.65" y1="260.45" x2="171.65" y2="263.05" stroke="#111" stroke-width="0.95"/>
<line x1="176.19" y1="260.45" x2="176.19" y2="263.05" stroke="#111" stroke-width="0.95"/>
<line x1="180.72" y1="260.45" x2="180.72" y2="264.05" stroke="#111" stroke-width="0.95"/>
<text x="44.90" y="272.0" font-size="8.3" text-anchor="middle" fill="#231f20">0</text>
<text x="90.24" y="272.0" font-size="8.3" text-anchor="middle" fill="#231f20">20</text>
<text x="135.58" y="272.0" font-size="8.3" text-anchor="middle" fill="#231f20">40</text>
<text x="180.92" y="272.0" font-size="8.3" text-anchor="middle" fill="#231f20">60</text>
<text x="96.3" y="282.6" font-size="10.2" textLength="36.0" lengthAdjust="spacingAndGlyphs" fill="#231f20">Time (min)</text>
<text transform="translate(21.6,230.4) rotate(-90)" font-size="8.6" fill="#231f20" textLength="28.2" lengthAdjust="spacingAndGlyphs">Fraction,</text>
<text transform="translate(23.6,199.8) rotate(-90)" font-size="6.8" fill="#231f20" textLength="3.6" lengthAdjust="spacingAndGlyphs">II</text>
<path d="M44.50,169.60 L44.69,169.73 L44.88,169.86 L45.08,169.99 L45.27,170.12 L45.46,170.25 L45.65,170.38 L45.84,170.50 L46.04,170.63 L46.23,170.76 L46.42,170.88 L46.61,171.01 L46.81,171.13 L47.00,171.25 L47.19,171.38 L47.38,171.50 L47.57,171.62 L47.77,171.74 L47.96,171.86 L48.15,171.98 L48.34,172.10 L48.53,172.22 L48.73,172.34 L48.92,172.46 L49.11,172.58 L49.30,172.69 L49.50,172.81 L49.69,172.92 L49.88,173.04 L50.07,173.15 L50.26,173.27 L50.46,173.38 L50.65,173.49 L50.84,173.61 L51.03,173.72 L51.22,173.83 L51.42,173.94 L51.61,174.05 L51.80,174.16 L51.99,174.27 L52.18,174.38 L52.38,174.49 L52.57,174.59 L52.76,174.70 L52.95,174.81 L53.15,174.91 L53.34,175.02 L53.53,175.12 L53.72,175.23 L53.91,175.33 L54.11,175.43 L54.30,175.54 L54.49,175.64 L54.68,175.74 L54.87,175.84 L55.07,175.94 L55.26,176.05 L55.45,176.15 L55.64,176.25 L55.84,176.34 L55.84,176.34 L56.88,176.88 L57.93,177.40 L58.98,177.90 L60.03,178.39 L61.07,178.87 L62.12,179.34 L63.17,179.80 L64.22,180.24 L65.26,180.68 L66.31,181.10 L67.36,181.51 L68.41,181.91 L69.46,182.30 L70.50,182.68 L71.55,183.06 L72.60,183.42 L73.65,183.77 L74.69,184.12 L75.74,184.45 L76.79,184.78 L77.84,185.10 L78.89,185.41 L79.93,185.72 L80.98,186.02 L82.03,186.31 L83.08,186.59 L84.12,186.86 L85.17,187.13 L86.22,187.40 L87.27,187.65 L88.32,187.91 L89.36,188.15 L90.41,188.39 L91.46,188.62 L92.51,188.85 L93.55,189.07 L94.60,189.29 L95.65,189.50 L96.70,189.71 L97.75,189.91 L98.79,190.11 L99.84,190.31 L100.89,190.49 L101.94,190.68 L102.98,190.86 L104.03,191.04 L105.08,191.21 L106.13,191.38 L107.18,191.54 L108.22,191.71 L109.27,191.86 L110.32,192.02 L111.37,192.17 L112.41,192.32 L113.46,192.47 L114.51,192.61 L115.56,192.75 L116.61,192.88 L117.65,193.02 L118.70,193.15 L119.75,193.28 L120.80,193.40 L121.84,193.52 L122.89,193.64 L123.94,193.76 L124.99,193.88 L126.04,193.99 L127.08,194.10 L128.13,194.21 L129.18,194.32 L130.23,194.43 L131.27,194.53 L132.32,194.63 L133.37,194.73 L134.42,194.83 L135.47,194.92 L136.51,195.02 L137.56,195.11 L138.61,195.20 L139.66,195.29 L140.70,195.38 L141.75,195.47 L142.80,195.55 L143.85,195.63 L144.90,195.72 L145.94,195.80 L146.99,195.88 L148.04,195.96 L149.09,196.03 L150.13,196.11 L151.18,196.18 L152.23,196.26 L153.28,196.33 L154.33,196.40 L155.37,196.47 L156.42,196.54 L157.47,196.61 L158.52,196.68 L159.56,196.74 L160.61,196.81 L161.66,196.87 L162.71,196.94 L163.76,197.00 L164.80,197.06 L165.85,197.12 L166.90,197.19 L167.95,197.25 L168.99,197.30 L170.04,197.36 L171.09,197.42 L172.14,197.48 L173.19,197.54 L174.23,197.59 L175.28,197.65 L176.33,197.70 L177.38,197.76 L178.42,197.81 L179.47,197.86 L180.52,197.91" fill="none" stroke="#3cb44b" stroke-width="1.35" stroke-linejoin="round"/>
<path d="M44.50,167.50 L46.50,171.10 L42.50,171.10 Z" fill="#3cb44b"/>
<path d="M45.63,168.40 L47.63,172.00 L43.63,172.00 Z" fill="#3cb44b"/>
<path d="M46.77,169.31 L48.77,172.91 L44.77,172.91 Z" fill="#3cb44b"/>
<path d="M47.90,169.76 L49.90,173.36 L45.90,173.36 Z" fill="#3cb44b"/>
<path d="M49.03,170.21 L51.03,173.81 L47.03,173.81 Z" fill="#3cb44b"/>
<path d="M50.17,170.66 L52.17,174.26 L48.17,174.26 Z" fill="#3cb44b"/>
<path d="M51.30,170.94 L53.30,174.54 L49.30,174.54 Z" fill="#3cb44b"/>
<path d="M55.84,173.47 L57.84,177.07 L53.84,177.07 Z" fill="#3cb44b"/>
<path d="M67.17,180.43 L69.17,184.03 L65.17,184.03 Z" fill="#3cb44b"/>
<path d="M78.50,183.50 L80.50,187.10 L76.50,187.10 Z" fill="#3cb44b"/>
<path d="M112.51,189.83 L114.51,193.43 L110.51,193.43 Z" fill="#3cb44b"/>
<path d="M180.52,195.89 L182.52,199.49 L178.52,199.49 Z" fill="#3cb44b"/>
<path d="M44.50,169.60 L44.69,169.96 L44.88,170.32 L45.08,170.67 L45.27,171.03 L45.46,171.38 L45.65,171.72 L45.84,172.07 L46.04,172.41 L46.23,172.75 L46.42,173.09 L46.61,173.42 L46.81,173.76 L47.00,174.09 L47.19,174.41 L47.38,174.74 L47.57,175.06 L47.77,175.38 L47.96,175.70 L48.15,176.02 L48.34,176.33 L48.53,176.64 L48.73,176.95 L48.92,177.26 L49.11,177.56 L49.30,177.87 L49.50,178.17 L49.69,178.47 L49.88,178.76 L50.07,179.06 L50.26,179.35 L50.46,179.64 L50.65,179.92 L50.84,180.21 L51.03,180.49 L51.22,180.78 L51.42,181.05 L51.61,181.33 L51.80,181.61 L51.99,181.88 L52.18,182.15 L52.38,182.42 L52.57,182.69 L52.76,182.96 L52.95,183.22 L53.15,183.48 L53.34,183.74 L53.53,184.00 L53.72,184.26 L53.91,184.51 L54.11,184.77 L54.30,185.02 L54.49,185.27 L54.68,185.51 L54.87,185.76 L55.07,186.01 L55.26,186.25 L55.45,186.49 L55.64,186.73 L55.84,186.97 L55.84,186.97 L56.88,188.23 L57.93,189.45 L58.98,190.63 L60.03,191.76 L61.07,192.85 L62.12,193.90 L63.17,194.92 L64.22,195.90 L65.26,196.84 L66.31,197.75 L67.36,198.63 L68.41,199.48 L69.46,200.30 L70.50,201.10 L71.55,201.87 L72.60,202.61 L73.65,203.33 L74.69,204.02 L75.74,204.70 L76.79,205.35 L77.84,205.98 L78.89,206.59 L79.93,207.19 L80.98,207.77 L82.03,208.33 L83.08,208.87 L84.12,209.40 L85.17,209.91 L86.22,210.41 L87.27,210.90 L88.32,211.37 L89.36,211.84 L90.41,212.29 L91.46,212.72 L92.51,213.15 L93.55,213.57 L94.60,213.98 L95.65,214.38 L96.70,214.77 L97.75,215.15 L98.79,215.52 L99.84,215.88 L100.89,216.24 L101.94,216.59 L102.98,216.93 L104.03,217.27 L105.08,217.60 L106.13,217.93 L107.18,218.24 L108.22,218.56 L109.27,218.86 L110.32,219.17 L111.37,219.47 L112.41,219.76 L113.46,220.05 L114.51,220.33 L115.56,220.61 L116.61,220.89 L117.65,221.16 L118.70,221.43 L119.75,221.70 L120.80,221.96 L121.84,222.22 L122.89,222.48 L123.94,222.73 L124.99,222.98 L126.04,223.23 L127.08,223.48 L128.13,223.72 L129.18,223.97 L130.23,224.21 L131.27,224.44 L132.32,224.68 L133.37,224.91 L134.42,225.14 L135.47,225.37 L136.51,225.60 L137.56,225.83 L138.61,226.06 L139.66,226.28 L140.70,226.50 L141.75,226.72 L142.80,226.94 L143.85,227.16 L144.90,227.38 L145.94,227.60 L146.99,227.81 L148.04,228.03 L149.09,228.24 L150.13,228.45 L151.18,228.67 L152.23,228.88 L153.28,229.09 L154.33,229.30 L155.37,229.50 L156.42,229.71 L157.47,229.92 L158.52,230.13 L159.56,230.33 L160.61,230.54 L161.66,230.74 L162.71,230.95 L163.76,231.15 L164.80,231.35 L165.85,231.56 L166.90,231.76 L167.95,231.96 L168.99,232.16 L170.04,232.36 L171.09,232.56 L172.14,232.76 L173.19,232.96 L174.23,233.16 L175.28,233.36 L176.33,233.56 L177.38,233.76 L178.42,233.96 L179.47,234.16 L180.52,234.35" fill="none" stroke="#1b5191" stroke-width="1.35" stroke-linejoin="round"/>
<rect x="42.85" y="167.95" width="3.30" height="3.30" fill="#1b5191"/>
<rect x="43.98" y="168.85" width="3.30" height="3.30" fill="#1b5191"/>
<rect x="45.12" y="170.66" width="3.30" height="3.30" fill="#1b5191"/>
<rect x="46.25" y="172.47" width="3.30" height="3.30" fill="#1b5191"/>
<rect x="47.38" y="173.37" width="3.30" height="3.30" fill="#1b5191"/>
<rect x="48.52" y="176.09" width="3.30" height="3.30" fill="#1b5191"/>
<rect x="49.65" y="179.70" width="3.30" height="3.30" fill="#1b5191"/>
<rect x="54.19" y="188.29" width="3.30" height="3.30" fill="#1b5191"/>
<rect x="65.52" y="197.87" width="3.30" height="3.30" fill="#1b5191"/>
<rect x="76.85" y="203.75" width="3.30" height="3.30" fill="#1b5191"/>
<rect x="110.86" y="218.03" width="3.30" height="3.30" fill="#1b5191"/>
<rect x="178.87" y="232.77" width="3.30" height="3.30" fill="#1b5191"/>
<path d="M44.50,169.60 L44.69,170.45 L44.88,171.28 L45.08,172.09 L45.27,172.89 L45.46,173.66 L45.65,174.42 L45.84,175.16 L46.04,175.89 L46.23,176.60 L46.42,177.30 L46.61,177.98 L46.81,178.64 L47.00,179.30 L47.19,179.94 L47.38,180.56 L47.57,181.18 L47.77,181.78 L47.96,182.37 L48.15,182.95 L48.34,183.52 L48.53,184.07 L48.73,184.62 L48.92,185.16 L49.11,185.68 L49.30,186.20 L49.50,186.71 L49.69,187.20 L49.88,187.69 L50.07,188.18 L50.26,188.65 L50.46,189.11 L50.65,189.57 L50.84,190.02 L51.03,190.46 L51.22,190.90 L51.42,191.32 L51.61,191.75 L51.80,192.16 L51.99,192.57 L52.18,192.97 L52.38,193.37 L52.57,193.76 L52.76,194.14 L52.95,194.52 L53.15,194.90 L53.34,195.26 L53.53,195.63 L53.72,195.99 L53.91,196.34 L54.11,196.69 L54.30,197.03 L54.49,197.37 L54.68,197.71 L54.87,198.04 L55.07,198.37 L55.26,198.69 L55.45,199.01 L55.64,199.33 L55.84,199.64 L55.84,199.64 L56.88,201.28 L57.93,202.83 L58.98,204.30 L60.03,205.69 L61.07,207.03 L62.12,208.30 L63.17,209.53 L64.22,210.71 L65.26,211.85 L66.31,212.95 L67.36,214.01 L68.41,215.05 L69.46,216.05 L70.50,217.03 L71.55,217.98 L72.60,218.91 L73.65,219.81 L74.69,220.70 L75.74,221.56 L76.79,222.40 L77.84,223.22 L78.89,224.02 L79.93,224.81 L80.98,225.58 L82.03,226.33 L83.08,227.06 L84.12,227.78 L85.17,228.48 L86.22,229.17 L87.27,229.85 L88.32,230.50 L89.36,231.15 L90.41,231.78 L91.46,232.40 L92.51,233.01 L93.55,233.60 L94.60,234.18 L95.65,234.75 L96.70,235.31 L97.75,235.85 L98.79,236.39 L99.84,236.91 L100.89,237.42 L101.94,237.92 L102.98,238.42 L104.03,238.90 L105.08,239.37 L106.13,239.83 L107.18,240.28 L108.22,240.72 L109.27,241.16 L110.32,241.58 L111.37,242.00 L112.41,242.40 L113.46,242.80 L114.51,243.19 L115.56,243.58 L116.61,243.95 L117.65,244.32 L118.70,244.68 L119.75,245.03 L120.80,245.37 L121.84,245.71 L122.89,246.04 L123.94,246.36 L124.99,246.68 L126.04,246.99 L127.08,247.30 L128.13,247.59 L129.18,247.89 L130.23,248.17 L131.27,248.45 L132.32,248.72 L133.37,248.99 L134.42,249.26 L135.47,249.51 L136.51,249.76 L137.56,250.01 L138.61,250.25 L139.66,250.49 L140.70,250.72 L141.75,250.95 L142.80,251.17 L143.85,251.39 L144.90,251.60 L145.94,251.81 L146.99,252.02 L148.04,252.22 L149.09,252.41 L150.13,252.60 L151.18,252.79 L152.23,252.98 L153.28,253.16 L154.33,253.33 L155.37,253.51 L156.42,253.68 L157.47,253.84 L158.52,254.01 L159.56,254.16 L160.61,254.32 L161.66,254.47 L162.71,254.62 L163.76,254.77 L164.80,254.91 L165.85,255.05 L166.90,255.19 L167.95,255.33 L168.99,255.46 L170.04,255.59 L171.09,255.71 L172.14,255.84 L173.19,255.96 L174.23,256.08 L175.28,256.20 L176.33,256.31 L177.38,256.42 L178.42,256.53 L179.47,256.64 L180.52,256.74" fill="none" stroke="#c8102e" stroke-width="1.35" stroke-linejoin="round"/>
<circle cx="44.50" cy="169.60" r="1.70" fill="#c8102e"/>
<circle cx="45.63" cy="174.12" r="1.70" fill="#c8102e"/>
<circle cx="46.77" cy="179.54" r="1.70" fill="#c8102e"/>
<circle cx="47.90" cy="182.26" r="1.70" fill="#c8102e"/>
<circle cx="49.03" cy="184.97" r="1.70" fill="#c8102e"/>
<circle cx="50.17" cy="187.68" r="1.70" fill="#c8102e"/>
<circle cx="51.30" cy="191.75" r="1.70" fill="#c8102e"/>
<circle cx="55.84" cy="199.34" r="1.70" fill="#c8102e"/>
<circle cx="67.17" cy="214.26" r="1.70" fill="#c8102e"/>
<circle cx="78.50" cy="223.48" r="1.70" fill="#c8102e"/>
<circle cx="112.51" cy="242.46" r="1.70" fill="#c8102e"/>
<circle cx="180.52" cy="256.75" r="1.70" fill="#c8102e"/>
<line x1="192.8" y1="175.9" x2="202.5" y2="175.9" stroke="#c8102e" stroke-width="1.3"/>
<circle cx="197.65" cy="175.90" r="1.87" fill="#c8102e"/>
<text x="205.9" y="178.4" font-size="7.1" textLength="34.8" lengthAdjust="spacingAndGlyphs" fill="#231f20"><tspan font-style="italic">ptf</tspan><tspan>V</tspan><tspan dy="-0.9">_</tspan><tspan font-style="italic" dy="0.9">hf</tspan><tspan>Va1</tspan></text>
<line x1="192.8" y1="188.0" x2="202.5" y2="188.0" stroke="#1b5191" stroke-width="1.3"/>
<rect x="195.84" y="186.19" width="3.63" height="3.63" fill="#1b5191"/>
<text x="205.9" y="190.5" font-size="7.1" textLength="13.9" lengthAdjust="spacingAndGlyphs" fill="#231f20"><tspan font-style="italic">ptf</tspan><tspan>V</tspan></text>
<line x1="192.8" y1="199.7" x2="202.5" y2="199.7" stroke="#3cb44b" stroke-width="1.3"/>
<path d="M197.65,197.39 L199.85,201.35 L195.45,201.35 Z" fill="#3cb44b"/>
<text x="205.9" y="202.2" font-size="7.1" textLength="41.2" lengthAdjust="spacingAndGlyphs" fill="#231f20"><tspan font-style="italic">ptf</tspan><tspan>V</tspan><tspan dy="-0.9">_</tspan><tspan font-style="italic" dy="0.9">hf</tspan><tspan>VIIIa1</tspan></text>
<line x1="311.09999999999997" y1="167.0" x2="311.09999999999997" y2="260.95" stroke="#111" stroke-width="1.3"/>
<line x1="307.7" y1="260.45" x2="448.7" y2="260.45" stroke="#111" stroke-width="1.0"/>
<line x1="307.9" y1="260.0" x2="310.9" y2="260.0" stroke="#111" stroke-width="0.9"/>
<text x="304.5" y="262.8" font-size="8.5" text-anchor="end" textLength="15.8" lengthAdjust="spacingAndGlyphs" fill="#231f20">0.00</text>
<line x1="307.9" y1="242.26" x2="310.9" y2="242.26" stroke="#111" stroke-width="0.9"/>
<text x="304.5" y="245.1" font-size="8.5" text-anchor="end" textLength="15.8" lengthAdjust="spacingAndGlyphs" fill="#231f20">0.02</text>
<line x1="307.9" y1="224.51999999999998" x2="310.9" y2="224.51999999999998" stroke="#111" stroke-width="0.9"/>
<text x="304.5" y="227.3" font-size="8.5" text-anchor="end" textLength="15.8" lengthAdjust="spacingAndGlyphs" fill="#231f20">0.04</text>
<line x1="307.9" y1="206.78" x2="310.9" y2="206.78" stroke="#111" stroke-width="0.9"/>
<text x="304.5" y="209.6" font-size="8.5" text-anchor="end" textLength="15.8" lengthAdjust="spacingAndGlyphs" fill="#231f20">0.06</text>
<line x1="307.9" y1="189.04" x2="310.9" y2="189.04" stroke="#111" stroke-width="0.9"/>
<text x="304.5" y="191.8" font-size="8.5" text-anchor="end" textLength="15.8" lengthAdjust="spacingAndGlyphs" fill="#231f20">0.08</text>
<line x1="307.9" y1="171.3" x2="310.9" y2="171.3" stroke="#111" stroke-width="0.9"/>
<text x="304.5" y="174.1" font-size="8.5" text-anchor="end" textLength="15.8" lengthAdjust="spacingAndGlyphs" fill="#231f20">0.10</text>
<line x1="311.10" y1="260.45" x2="311.10" y2="264.05" stroke="#111" stroke-width="0.95"/>
<line x1="315.55" y1="260.45" x2="315.55" y2="263.05" stroke="#111" stroke-width="0.95"/>
<line x1="320.00" y1="260.45" x2="320.00" y2="263.05" stroke="#111" stroke-width="0.95"/>
<line x1="324.45" y1="260.45" x2="324.45" y2="263.05" stroke="#111" stroke-width="0.95"/>
<line x1="328.90" y1="260.45" x2="328.90" y2="263.05" stroke="#111" stroke-width="0.95"/>
<line x1="333.35" y1="260.45" x2="333.35" y2="263.05" stroke="#111" stroke-width="0.95"/>
<line x1="337.80" y1="260.45" x2="337.80" y2="263.05" stroke="#111" stroke-width="0.95"/>
<line x1="342.25" y1="260.45" x2="342.25" y2="263.05" stroke="#111" stroke-width="0.95"/>
<line x1="346.70" y1="260.45" x2="346.70" y2="263.05" stroke="#111" stroke-width="0.95"/>
<line x1="351.15" y1="260.45" x2="351.15" y2="263.05" stroke="#111" stroke-width="0.95"/>
<line x1="355.60" y1="260.45" x2="355.60" y2="264.05" stroke="#111" stroke-width="0.95"/>
<line x1="360.05" y1="260.45" x2="360.05" y2="263.05" stroke="#111" stroke-width="0.95"/>
<line x1="364.50" y1="260.45" x2="364.50" y2="263.05" stroke="#111" stroke-width="0.95"/>
<line x1="368.95" y1="260.45" x2="368.95" y2="263.05" stroke="#111" stroke-width="0.95"/>
<line x1="373.40" y1="260.45" x2="373.40" y2="263.05" stroke="#111" stroke-width="0.95"/>
<line x1="377.85" y1="260.45" x2="377.85" y2="263.05" stroke="#111" stroke-width="0.95"/>
<line x1="382.30" y1="260.45" x2="382.30" y2="263.05" stroke="#111" stroke-width="0.95"/>
<line x1="386.75" y1="260.45" x2="386.75" y2="263.05" stroke="#111" stroke-width="0.95"/>
<line x1="391.20" y1="260.45" x2="391.20" y2="263.05" stroke="#111" stroke-width="0.95"/>
<line x1="395.65" y1="260.45" x2="395.65" y2="263.05" stroke="#111" stroke-width="0.95"/>
<line x1="400.10" y1="260.45" x2="400.10" y2="264.05" stroke="#111" stroke-width="0.95"/>
<line x1="404.55" y1="260.45" x2="404.55" y2="263.05" stroke="#111" stroke-width="0.95"/>
<line x1="409.00" y1="260.45" x2="409.00" y2="263.05" stroke="#111" stroke-width="0.95"/>
<line x1="413.45" y1="260.45" x2="413.45" y2="263.05" stroke="#111" stroke-width="0.95"/>
<line x1="417.90" y1="260.45" x2="417.90" y2="263.05" stroke="#111" stroke-width="0.95"/>
<line x1="422.35" y1="260.45" x2="422.35" y2="263.05" stroke="#111" stroke-width="0.95"/>
<line x1="426.80" y1="260.45" x2="426.80" y2="263.05" stroke="#111" stroke-width="0.95"/>
<line x1="431.25" y1="260.45" x2="431.25" y2="263.05" stroke="#111" stroke-width="0.95"/>
<line x1="435.70" y1="260.45" x2="435.70" y2="263.05" stroke="#111" stroke-width="0.95"/>
<line x1="440.15" y1="260.45" x2="440.15" y2="263.05" stroke="#111" stroke-width="0.95"/>
<line x1="444.60" y1="260.45" x2="444.60" y2="264.05" stroke="#111" stroke-width="0.95"/>
<text x="309.30" y="272.0" font-size="8.3" text-anchor="middle" fill="#231f20">0</text>
<text x="355.80" y="272.0" font-size="8.3" text-anchor="middle" fill="#231f20">20</text>
<text x="400.30" y="272.0" font-size="8.3" text-anchor="middle" fill="#231f20">40</text>
<text x="444.80" y="272.0" font-size="8.3" text-anchor="middle" fill="#231f20">60</text>
<text x="361.5" y="283.2" font-size="10.2" textLength="37.0" lengthAdjust="spacingAndGlyphs" fill="#231f20">Time (min)</text>
<text transform="translate(281.6,245.3) rotate(-90)" font-size="8.6" fill="#231f20" textLength="27.6" lengthAdjust="spacingAndGlyphs">Fraction,</text>
<text transform="translate(283.70000000000005,215.10000000000002) rotate(-90)" font-size="6.5" fill="#231f20" textLength="32.8" lengthAdjust="spacingAndGlyphs">mIIa (F1.2-L)</text>
<path d="M310.90,260.00 C311.75,259.80 314.15,259.38 316.00,258.80 C317.85,258.22 319.15,257.57 322.00,256.50 C324.85,255.43 329.33,253.63 333.10,252.40 C336.87,251.17 340.12,250.17 344.60,249.10 C349.08,248.03 354.43,246.95 360.00,246.00 C365.57,245.05 372.17,244.18 378.00,243.40 C383.83,242.62 388.62,241.88 395.00,241.30 C401.38,240.72 408.05,240.22 416.30,239.90 C424.55,239.58 439.80,239.48 444.50,239.40" fill="none" stroke="#3cb44b" stroke-width="1.35" stroke-linejoin="round"/>
<path d="M310.90,257.90 L312.90,261.50 L308.90,261.50 Z" fill="#3cb44b"/>
<path d="M312.01,257.90 L314.01,261.50 L310.01,261.50 Z" fill="#3cb44b"/>
<path d="M313.12,257.90 L315.12,261.50 L311.12,261.50 Z" fill="#3cb44b"/>
<path d="M314.24,257.90 L316.24,261.50 L312.24,261.50 Z" fill="#3cb44b"/>
<path d="M315.35,257.90 L317.35,261.50 L313.35,261.50 Z" fill="#3cb44b"/>
<path d="M316.46,257.90 L318.46,261.50 L314.46,261.50 Z" fill="#3cb44b"/>
<path d="M317.57,257.90 L319.57,261.50 L315.57,261.50 Z" fill="#3cb44b"/>
<path d="M322.02,257.90 L324.02,261.50 L320.02,261.50 Z" fill="#3cb44b"/>
<path d="M333.15,247.50 L335.15,251.10 L331.15,251.10 Z" fill="#3cb44b"/>
<path d="M344.27,246.60 L346.27,250.20 L342.27,250.20 Z" fill="#3cb44b"/>
<path d="M377.65,242.40 L379.65,246.00 L375.65,246.00 Z" fill="#3cb44b"/>
<path d="M444.40,237.30 L446.40,240.90 L442.40,240.90 Z" fill="#3cb44b"/>
<path d="M310.90,260.00 C311.75,259.37 314.13,257.35 316.00,256.20 C317.87,255.05 319.25,254.65 322.10,253.10 C324.95,251.55 329.35,248.55 333.10,246.90 C336.85,245.25 340.12,244.30 344.60,243.20 C349.08,242.10 354.43,241.07 360.00,240.30 C365.57,239.53 372.48,238.98 378.00,238.60 C383.52,238.22 386.72,237.87 393.10,238.00 C399.48,238.13 407.73,238.47 416.30,239.40 C424.87,240.33 439.80,242.90 444.50,243.60" fill="none" stroke="#1b5191" stroke-width="1.35" stroke-linejoin="round"/>
<rect x="309.25" y="258.35" width="3.30" height="3.30" fill="#1b5191"/>
<rect x="310.36" y="258.35" width="3.30" height="3.30" fill="#1b5191"/>
<rect x="311.48" y="258.35" width="3.30" height="3.30" fill="#1b5191"/>
<rect x="312.59" y="258.35" width="3.30" height="3.30" fill="#1b5191"/>
<rect x="313.70" y="258.35" width="3.30" height="3.30" fill="#1b5191"/>
<rect x="314.81" y="257.95" width="3.30" height="3.30" fill="#1b5191"/>
<rect x="315.93" y="252.55" width="3.30" height="3.30" fill="#1b5191"/>
<rect x="320.38" y="251.75" width="3.30" height="3.30" fill="#1b5191"/>
<rect x="331.50" y="244.65" width="3.30" height="3.30" fill="#1b5191"/>
<rect x="342.62" y="241.95" width="3.30" height="3.30" fill="#1b5191"/>
<rect x="376.00" y="237.75" width="3.30" height="3.30" fill="#1b5191"/>
<rect x="442.75" y="241.95" width="3.30" height="3.30" fill="#1b5191"/>
<path d="M310.90,260.00 C311.32,258.18 312.55,253.12 313.40,249.10 C314.25,245.08 315.20,239.75 316.00,235.90 C316.80,232.05 317.18,229.47 318.20,226.00 C319.22,222.53 320.63,218.57 322.10,215.10 C323.57,211.63 325.17,208.13 327.00,205.20 C328.83,202.27 330.90,199.88 333.10,197.50 C335.30,195.12 337.55,192.63 340.20,190.90 C342.85,189.17 346.37,188.00 349.00,187.10 C351.63,186.20 353.63,185.85 356.00,185.50 C358.37,185.15 360.78,184.98 363.20,185.00 C365.62,185.02 367.62,185.07 370.50,185.60 C373.38,186.13 376.73,186.95 380.50,188.20 C384.27,189.45 389.07,190.92 393.10,193.10 C397.13,195.28 400.83,198.20 404.70,201.30 C408.57,204.40 412.43,208.05 416.30,211.70 C420.17,215.35 424.05,219.15 427.90,223.20 C431.75,227.25 436.63,232.90 439.40,236.00 C442.17,239.10 443.65,240.83 444.50,241.80" fill="none" stroke="#c8102e" stroke-width="1.35" stroke-linejoin="round"/>
<circle cx="310.90" cy="260.00" r="1.70" fill="#c8102e"/>
<circle cx="312.01" cy="254.50" r="1.70" fill="#c8102e"/>
<circle cx="313.12" cy="248.70" r="1.70" fill="#c8102e"/>
<circle cx="314.24" cy="242.50" r="1.70" fill="#c8102e"/>
<circle cx="315.35" cy="238.80" r="1.70" fill="#c8102e"/>
<circle cx="316.46" cy="232.20" r="1.70" fill="#c8102e"/>
<circle cx="317.57" cy="226.70" r="1.70" fill="#c8102e"/>
<circle cx="322.02" cy="215.10" r="1.70" fill="#c8102e"/>
<circle cx="333.15" cy="192.00" r="1.70" fill="#c8102e"/>
<circle cx="344.27" cy="186.50" r="1.70" fill="#c8102e"/>
<circle cx="377.65" cy="193.60" r="1.70" fill="#c8102e"/>
<circle cx="444.40" cy="241.80" r="1.70" fill="#c8102e"/>
<line x1="458.8" y1="176.9" x2="468.5" y2="176.9" stroke="#c8102e" stroke-width="1.3"/>
<circle cx="463.65" cy="176.90" r="1.87" fill="#c8102e"/>
<text x="472.0" y="179.4" font-size="7.1" textLength="34.8" lengthAdjust="spacingAndGlyphs" fill="#231f20"><tspan font-style="italic">ptf</tspan><tspan>V</tspan><tspan dy="-0.9">_</tspan><tspan font-style="italic" dy="0.9">hf</tspan><tspan>Va1</tspan></text>
<line x1="458.8" y1="188.9" x2="468.5" y2="188.9" stroke="#1b5191" stroke-width="1.3"/>
<rect x="461.83" y="187.09" width="3.63" height="3.63" fill="#1b5191"/>
<text x="472.0" y="191.4" font-size="7.1" textLength="13.9" lengthAdjust="spacingAndGlyphs" fill="#231f20"><tspan font-style="italic">ptf</tspan><tspan>V</tspan></text>
<line x1="458.8" y1="201.0" x2="468.5" y2="201.0" stroke="#3cb44b" stroke-width="1.3"/>
<path d="M463.65,198.69 L465.85,202.65 L461.45,202.65 Z" fill="#3cb44b"/>
<text x="472.0" y="203.5" font-size="7.1" textLength="41.2" lengthAdjust="spacingAndGlyphs" fill="#231f20"><tspan font-style="italic">ptf</tspan><tspan>V</tspan><tspan dy="-0.9">_</tspan><tspan font-style="italic" dy="0.9">hf</tspan><tspan>VIIIa1</tspan></text>
<line x1="44.7" y1="307.4" x2="44.7" y2="401.34999999999997" stroke="#111" stroke-width="1.3"/>
<line x1="41.3" y1="400.84999999999997" x2="182.3" y2="400.84999999999997" stroke="#111" stroke-width="1.0"/>
<line x1="41.5" y1="400.4" x2="44.5" y2="400.4" stroke="#111" stroke-width="0.9"/>
<text x="39.0" y="403.2" font-size="8.5" text-anchor="end" textLength="15.8" lengthAdjust="spacingAndGlyphs" fill="#231f20">0.00</text>
<line x1="41.5" y1="370.79999999999995" x2="44.5" y2="370.79999999999995" stroke="#111" stroke-width="0.9"/>
<text x="39.0" y="373.6" font-size="8.5" text-anchor="end" textLength="15.8" lengthAdjust="spacingAndGlyphs" fill="#231f20">0.05</text>
<line x1="41.5" y1="341.2" x2="44.5" y2="341.2" stroke="#111" stroke-width="0.9"/>
<text x="39.0" y="344.0" font-size="8.5" text-anchor="end" textLength="15.8" lengthAdjust="spacingAndGlyphs" fill="#231f20">0.10</text>
<line x1="41.5" y1="311.59999999999997" x2="44.5" y2="311.59999999999997" stroke="#111" stroke-width="0.9"/>
<text x="39.0" y="314.4" font-size="8.5" text-anchor="end" textLength="15.8" lengthAdjust="spacingAndGlyphs" fill="#231f20">0.15</text>
<line x1="44.70" y1="400.84999999999997" x2="44.70" y2="404.45" stroke="#111" stroke-width="0.95"/>
<line x1="49.15" y1="400.84999999999997" x2="49.15" y2="403.45" stroke="#111" stroke-width="0.95"/>
<line x1="53.60" y1="400.84999999999997" x2="53.60" y2="403.45" stroke="#111" stroke-width="0.95"/>
<line x1="58.05" y1="400.84999999999997" x2="58.05" y2="403.45" stroke="#111" stroke-width="0.95"/>
<line x1="62.50" y1="400.84999999999997" x2="62.50" y2="403.45" stroke="#111" stroke-width="0.95"/>
<line x1="66.95" y1="400.84999999999997" x2="66.95" y2="403.45" stroke="#111" stroke-width="0.95"/>
<line x1="71.40" y1="400.84999999999997" x2="71.40" y2="403.45" stroke="#111" stroke-width="0.95"/>
<line x1="75.85" y1="400.84999999999997" x2="75.85" y2="403.45" stroke="#111" stroke-width="0.95"/>
<line x1="80.30" y1="400.84999999999997" x2="80.30" y2="403.45" stroke="#111" stroke-width="0.95"/>
<line x1="84.75" y1="400.84999999999997" x2="84.75" y2="403.45" stroke="#111" stroke-width="0.95"/>
<line x1="89.20" y1="400.84999999999997" x2="89.20" y2="404.45" stroke="#111" stroke-width="0.95"/>
<line x1="93.65" y1="400.84999999999997" x2="93.65" y2="403.45" stroke="#111" stroke-width="0.95"/>
<line x1="98.10" y1="400.84999999999997" x2="98.10" y2="403.45" stroke="#111" stroke-width="0.95"/>
<line x1="102.55" y1="400.84999999999997" x2="102.55" y2="403.45" stroke="#111" stroke-width="0.95"/>
<line x1="107.00" y1="400.84999999999997" x2="107.00" y2="403.45" stroke="#111" stroke-width="0.95"/>
<line x1="111.45" y1="400.84999999999997" x2="111.45" y2="403.45" stroke="#111" stroke-width="0.95"/>
<line x1="115.90" y1="400.84999999999997" x2="115.90" y2="403.45" stroke="#111" stroke-width="0.95"/>
<line x1="120.35" y1="400.84999999999997" x2="120.35" y2="403.45" stroke="#111" stroke-width="0.95"/>
<line x1="124.80" y1="400.84999999999997" x2="124.80" y2="403.45" stroke="#111" stroke-width="0.95"/>
<line x1="129.25" y1="400.84999999999997" x2="129.25" y2="403.45" stroke="#111" stroke-width="0.95"/>
<line x1="133.70" y1="400.84999999999997" x2="133.70" y2="404.45" stroke="#111" stroke-width="0.95"/>
<line x1="138.15" y1="400.84999999999997" x2="138.15" y2="403.45" stroke="#111" stroke-width="0.95"/>
<line x1="142.60" y1="400.84999999999997" x2="142.60" y2="403.45" stroke="#111" stroke-width="0.95"/>
<line x1="147.05" y1="400.84999999999997" x2="147.05" y2="403.45" stroke="#111" stroke-width="0.95"/>
<line x1="151.50" y1="400.84999999999997" x2="151.50" y2="403.45" stroke="#111" stroke-width="0.95"/>
<line x1="155.95" y1="400.84999999999997" x2="155.95" y2="403.45" stroke="#111" stroke-width="0.95"/>
<line x1="160.40" y1="400.84999999999997" x2="160.40" y2="403.45" stroke="#111" stroke-width="0.95"/>
<line x1="164.85" y1="400.84999999999997" x2="164.85" y2="403.45" stroke="#111" stroke-width="0.95"/>
<line x1="169.30" y1="400.84999999999997" x2="169.30" y2="403.45" stroke="#111" stroke-width="0.95"/>
<line x1="173.75" y1="400.84999999999997" x2="173.75" y2="403.45" stroke="#111" stroke-width="0.95"/>
<line x1="178.20" y1="400.84999999999997" x2="178.20" y2="404.45" stroke="#111" stroke-width="0.95"/>
<text x="44.90" y="413.1" font-size="8.3" text-anchor="middle" fill="#231f20">0</text>
<text x="89.40" y="413.1" font-size="8.3" text-anchor="middle" fill="#231f20">20</text>
<text x="133.90" y="413.1" font-size="8.3" text-anchor="middle" fill="#231f20">40</text>
<text x="178.40" y="413.1" font-size="8.3" text-anchor="middle" fill="#231f20">60</text>
<text x="93.1" y="424.8" font-size="10.2" textLength="36.6" lengthAdjust="spacingAndGlyphs" fill="#231f20">Time (min)</text>
<text transform="translate(14.6,376.0) rotate(-90)" font-size="8.6" fill="#231f20" textLength="26.8" lengthAdjust="spacingAndGlyphs">Fraction,</text>
<text transform="translate(16.5,347.09999999999997) rotate(-90)" font-size="6.5" fill="#231f20" textLength="12.0" lengthAdjust="spacingAndGlyphs">pre2</text>
<path d="M44.50,400.40 L44.69,399.95 L44.88,399.51 L45.07,399.07 L45.25,398.64 L45.44,398.21 L45.63,397.79 L45.82,397.38 L46.01,396.97 L46.20,396.56 L46.39,396.16 L46.57,395.77 L46.76,395.38 L46.95,394.99 L47.14,394.61 L47.33,394.24 L47.52,393.87 L47.71,393.50 L47.89,393.14 L48.08,392.79 L48.27,392.43 L48.46,392.09 L48.65,391.74 L48.84,391.40 L49.03,391.07 L49.21,390.74 L49.40,390.41 L49.59,390.09 L49.78,389.77 L49.97,389.45 L50.16,389.14 L50.35,388.83 L50.53,388.53 L50.72,388.23 L50.91,387.93 L51.10,387.64 L51.29,387.35 L51.48,387.06 L51.67,386.78 L51.85,386.50 L52.04,386.22 L52.23,385.95 L52.42,385.68 L52.61,385.41 L52.80,385.14 L52.99,384.88 L53.17,384.62 L53.36,384.37 L53.55,384.12 L53.74,383.86 L53.93,383.62 L54.12,383.37 L54.31,383.13 L54.49,382.89 L54.68,382.65 L54.87,382.42 L55.06,382.19 L55.25,381.96 L55.44,381.73 L55.62,381.51 L55.62,381.51 L56.65,380.32 L57.68,379.20 L58.71,378.14 L59.74,377.14 L60.77,376.18 L61.80,375.27 L62.82,374.41 L63.85,373.58 L64.88,372.79 L65.91,372.03 L66.94,371.31 L67.97,370.61 L68.99,369.94 L70.02,369.29 L71.05,368.67 L72.08,368.07 L73.11,367.49 L74.14,366.92 L75.16,366.38 L76.19,365.85 L77.22,365.33 L78.25,364.83 L79.28,364.34 L80.31,363.86 L81.33,363.40 L82.36,362.95 L83.39,362.50 L84.42,362.07 L85.45,361.64 L86.48,361.23 L87.50,360.82 L88.53,360.42 L89.56,360.03 L90.59,359.64 L91.62,359.26 L92.65,358.89 L93.67,358.52 L94.70,358.16 L95.73,357.80 L96.76,357.45 L97.79,357.11 L98.82,356.77 L99.84,356.44 L100.87,356.10 L101.90,355.78 L102.93,355.46 L103.96,355.14 L104.99,354.83 L106.01,354.52 L107.04,354.21 L108.07,353.91 L109.10,353.62 L110.13,353.32 L111.16,353.03 L112.18,352.75 L113.21,352.46 L114.24,352.18 L115.27,351.91 L116.30,351.63 L117.33,351.36 L118.36,351.09 L119.38,350.83 L120.41,350.57 L121.44,350.31 L122.47,350.06 L123.50,349.80 L124.53,349.55 L125.55,349.31 L126.58,349.06 L127.61,348.82 L128.64,348.58 L129.67,348.34 L130.70,348.11 L131.72,347.88 L132.75,347.65 L133.78,347.42 L134.81,347.20 L135.84,346.98 L136.87,346.76 L137.89,346.54 L138.92,346.33 L139.95,346.11 L140.98,345.90 L142.01,345.70 L143.04,345.49 L144.06,345.29 L145.09,345.09 L146.12,344.89 L147.15,344.69 L148.18,344.50 L149.21,344.30 L150.23,344.11 L151.26,343.92 L152.29,343.74 L153.32,343.55 L154.35,343.37 L155.38,343.19 L156.40,343.01 L157.43,342.83 L158.46,342.65 L159.49,342.48 L160.52,342.31 L161.55,342.14 L162.57,341.97 L163.60,341.81 L164.63,341.64 L165.66,341.48 L166.69,341.32 L167.72,341.16 L168.74,341.00 L169.77,340.84 L170.80,340.69 L171.83,340.54 L172.86,340.38 L173.89,340.23 L174.91,340.09 L175.94,339.94 L176.97,339.79 L178.00,339.65" fill="none" stroke="#3cb44b" stroke-width="1.35" stroke-linejoin="round"/>
<path d="M44.50,398.30 L46.50,401.90 L42.50,401.90 Z" fill="#3cb44b"/>
<path d="M45.61,396.40 L47.61,400.00 L43.61,400.00 Z" fill="#3cb44b"/>
<path d="M46.73,394.40 L48.73,398.00 L44.73,398.00 Z" fill="#3cb44b"/>
<path d="M47.84,392.40 L49.84,396.00 L45.84,396.00 Z" fill="#3cb44b"/>
<path d="M48.95,389.40 L50.95,393.00 L46.95,393.00 Z" fill="#3cb44b"/>
<path d="M50.06,386.90 L52.06,390.50 L48.06,390.50 Z" fill="#3cb44b"/>
<path d="M51.17,384.20 L53.17,387.80 L49.17,387.80 Z" fill="#3cb44b"/>
<path d="M55.62,379.20 L57.62,382.80 L53.62,382.80 Z" fill="#3cb44b"/>
<path d="M66.75,368.80 L68.75,372.40 L64.75,372.40 Z" fill="#3cb44b"/>
<path d="M77.88,363.80 L79.88,367.40 L75.88,367.40 Z" fill="#3cb44b"/>
<path d="M111.25,350.60 L113.25,354.20 L109.25,354.20 Z" fill="#3cb44b"/>
<path d="M178.00,337.60 L180.00,341.20 L176.00,341.20 Z" fill="#3cb44b"/>
<path d="M44.50,400.40 L44.69,399.71 L44.88,399.03 L45.07,398.37 L45.25,397.73 L45.44,397.10 L45.63,396.48 L45.82,395.88 L46.01,395.28 L46.20,394.70 L46.39,394.14 L46.57,393.58 L46.76,393.04 L46.95,392.51 L47.14,391.99 L47.33,391.47 L47.52,390.97 L47.71,390.48 L47.89,390.00 L48.08,389.53 L48.27,389.07 L48.46,388.62 L48.65,388.17 L48.84,387.74 L49.03,387.31 L49.21,386.89 L49.40,386.48 L49.59,386.07 L49.78,385.68 L49.97,385.29 L50.16,384.91 L50.35,384.53 L50.53,384.16 L50.72,383.80 L50.91,383.44 L51.10,383.09 L51.29,382.75 L51.48,382.41 L51.67,382.08 L51.85,381.75 L52.04,381.43 L52.23,381.11 L52.42,380.80 L52.61,380.49 L52.80,380.19 L52.99,379.90 L53.17,379.60 L53.36,379.32 L53.55,379.03 L53.74,378.75 L53.93,378.48 L54.12,378.21 L54.31,377.94 L54.49,377.68 L54.68,377.42 L54.87,377.16 L55.06,376.91 L55.25,376.66 L55.44,376.41 L55.62,376.17 L55.62,376.17 L56.65,374.91 L57.68,373.73 L58.71,372.62 L59.74,371.58 L60.77,370.60 L61.80,369.67 L62.82,368.78 L63.85,367.94 L64.88,367.14 L65.91,366.37 L66.94,365.64 L67.97,364.93 L68.99,364.25 L70.02,363.60 L71.05,362.97 L72.08,362.36 L73.11,361.77 L74.14,361.20 L75.16,360.65 L76.19,360.12 L77.22,359.60 L78.25,359.10 L79.28,358.61 L80.31,358.14 L81.33,357.68 L82.36,357.23 L83.39,356.80 L84.42,356.37 L85.45,355.97 L86.48,355.57 L87.50,355.18 L88.53,354.80 L89.56,354.44 L90.59,354.08 L91.62,353.73 L92.65,353.40 L93.67,353.07 L94.70,352.75 L95.73,352.44 L96.76,352.14 L97.79,351.84 L98.82,351.56 L99.84,351.28 L100.87,351.01 L101.90,350.74 L102.93,350.48 L103.96,350.23 L104.99,349.99 L106.01,349.75 L107.04,349.52 L108.07,349.30 L109.10,349.08 L110.13,348.87 L111.16,348.66 L112.18,348.46 L113.21,348.26 L114.24,348.07 L115.27,347.89 L116.30,347.71 L117.33,347.53 L118.36,347.36 L119.38,347.19 L120.41,347.03 L121.44,346.87 L122.47,346.72 L123.50,346.57 L124.53,346.42 L125.55,346.28 L126.58,346.14 L127.61,346.01 L128.64,345.88 L129.67,345.75 L130.70,345.62 L131.72,345.50 L132.75,345.39 L133.78,345.27 L134.81,345.16 L135.84,345.05 L136.87,344.95 L137.89,344.84 L138.92,344.74 L139.95,344.65 L140.98,344.55 L142.01,344.46 L143.04,344.37 L144.06,344.28 L145.09,344.20 L146.12,344.11 L147.15,344.03 L148.18,343.95 L149.21,343.88 L150.23,343.80 L151.26,343.73 L152.29,343.66 L153.32,343.59 L154.35,343.53 L155.38,343.46 L156.40,343.40 L157.43,343.34 L158.46,343.28 L159.49,343.22 L160.52,343.16 L161.55,343.11 L162.57,343.05 L163.60,343.00 L164.63,342.95 L165.66,342.90 L166.69,342.85 L167.72,342.80 L168.74,342.76 L169.77,342.71 L170.80,342.67 L171.83,342.63 L172.86,342.59 L173.89,342.55 L174.91,342.51 L175.94,342.47 L176.97,342.43 L178.00,342.40" fill="none" stroke="#1b5191" stroke-width="1.35" stroke-linejoin="round"/>
<rect x="42.85" y="398.75" width="3.30" height="3.30" fill="#1b5191"/>
<rect x="43.96" y="395.35" width="3.30" height="3.30" fill="#1b5191"/>
<rect x="45.08" y="392.35" width="3.30" height="3.30" fill="#1b5191"/>
<rect x="46.19" y="389.35" width="3.30" height="3.30" fill="#1b5191"/>
<rect x="47.30" y="386.85" width="3.30" height="3.30" fill="#1b5191"/>
<rect x="48.41" y="383.35" width="3.30" height="3.30" fill="#1b5191"/>
<rect x="49.52" y="378.65" width="3.30" height="3.30" fill="#1b5191"/>
<rect x="53.98" y="374.75" width="3.30" height="3.30" fill="#1b5191"/>
<rect x="65.10" y="364.25" width="3.30" height="3.30" fill="#1b5191"/>
<rect x="76.22" y="358.45" width="3.30" height="3.30" fill="#1b5191"/>
<rect x="109.60" y="346.15" width="3.30" height="3.30" fill="#1b5191"/>
<rect x="176.35" y="341.05" width="3.30" height="3.30" fill="#1b5191"/>
<path d="M44.50,400.40 L44.69,399.96 L44.88,399.56 L45.07,399.19 L45.25,398.85 L45.44,398.54 L45.63,398.25 L45.82,397.99 L46.01,397.74 L46.20,397.52 L46.39,397.31 L46.57,397.12 L46.76,396.94 L46.95,396.78 L47.14,396.64 L47.33,396.50 L47.52,396.38 L47.71,396.26 L47.89,396.16 L48.08,396.06 L48.27,395.97 L48.46,395.89 L48.65,395.82 L48.84,395.75 L49.03,395.69 L49.21,395.63 L49.40,395.58 L49.59,395.54 L49.78,395.49 L49.97,395.46 L50.16,395.42 L50.35,395.39 L50.53,395.36 L50.72,395.34 L50.91,395.31 L51.10,395.29 L51.29,395.28 L51.48,395.26 L51.67,395.25 L51.85,395.23 L52.04,395.22 L52.23,395.21 L52.42,395.21 L52.61,395.20 L52.80,395.20 L52.99,395.19 L53.17,395.19 L53.36,395.19 L53.55,395.18 L53.74,395.18 L53.93,395.18 L54.12,395.18 L54.31,395.19 L54.49,395.19 L54.68,395.19 L54.87,395.19 L55.06,395.20 L55.25,395.20 L55.44,395.20 L55.62,395.21 L55.62,395.21 L56.65,395.24 L57.68,395.27 L58.71,395.31 L59.74,395.35 L60.77,395.40 L61.80,395.44 L62.82,395.48 L63.85,395.53 L64.88,395.57 L65.91,395.61 L66.94,395.66 L67.97,395.70 L68.99,395.74 L70.02,395.78 L71.05,395.82 L72.08,395.87 L73.11,395.91 L74.14,395.95 L75.16,395.99 L76.19,396.03 L77.22,396.07 L78.25,396.11 L79.28,396.15 L80.31,396.18 L81.33,396.22 L82.36,396.26 L83.39,396.30 L84.42,396.33 L85.45,396.37 L86.48,396.41 L87.50,396.44 L88.53,396.48 L89.56,396.51 L90.59,396.55 L91.62,396.58 L92.65,396.62 L93.67,396.65 L94.70,396.69 L95.73,396.72 L96.76,396.75 L97.79,396.79 L98.82,396.82 L99.84,396.85 L100.87,396.88 L101.90,396.92 L102.93,396.95 L103.96,396.98 L104.99,397.01 L106.01,397.04 L107.04,397.07 L108.07,397.10 L109.10,397.13 L110.13,397.16 L111.16,397.19 L112.18,397.22 L113.21,397.25 L114.24,397.28 L115.27,397.30 L116.30,397.33 L117.33,397.36 L118.36,397.39 L119.38,397.41 L120.41,397.44 L121.44,397.47 L122.47,397.50 L123.50,397.52 L124.53,397.55 L125.55,397.57 L126.58,397.60 L127.61,397.62 L128.64,397.65 L129.67,397.67 L130.70,397.70 L131.72,397.72 L132.75,397.75 L133.78,397.77 L134.81,397.80 L135.84,397.82 L136.87,397.84 L137.89,397.87 L138.92,397.89 L139.95,397.91 L140.98,397.93 L142.01,397.96 L143.04,397.98 L144.06,398.00 L145.09,398.02 L146.12,398.04 L147.15,398.06 L148.18,398.09 L149.21,398.11 L150.23,398.13 L151.26,398.15 L152.29,398.17 L153.32,398.19 L154.35,398.21 L155.38,398.23 L156.40,398.25 L157.43,398.27 L158.46,398.29 L159.49,398.31 L160.52,398.32 L161.55,398.34 L162.57,398.36 L163.60,398.38 L164.63,398.40 L165.66,398.42 L166.69,398.43 L167.72,398.45 L168.74,398.47 L169.77,398.49 L170.80,398.50 L171.83,398.52 L172.86,398.54 L173.89,398.56 L174.91,398.57 L175.94,398.59 L176.97,398.61 L178.00,398.62" fill="none" stroke="#c8102e" stroke-width="1.35" stroke-linejoin="round"/>
<circle cx="44.50" cy="400.50" r="1.70" fill="#c8102e"/>
<circle cx="45.61" cy="398.30" r="1.70" fill="#c8102e"/>
<circle cx="46.73" cy="397.00" r="1.70" fill="#c8102e"/>
<circle cx="47.84" cy="396.20" r="1.70" fill="#c8102e"/>
<circle cx="48.95" cy="395.70" r="1.70" fill="#c8102e"/>
<circle cx="50.06" cy="395.40" r="1.70" fill="#c8102e"/>
<circle cx="51.17" cy="395.20" r="1.70" fill="#c8102e"/>
<circle cx="55.62" cy="395.40" r="1.70" fill="#c8102e"/>
<circle cx="66.75" cy="395.90" r="1.70" fill="#c8102e"/>
<circle cx="77.88" cy="395.70" r="1.70" fill="#c8102e"/>
<circle cx="111.25" cy="397.10" r="1.70" fill="#c8102e"/>
<circle cx="178.00" cy="398.80" r="1.70" fill="#c8102e"/>
<line x1="193.1" y1="317.2" x2="202.5" y2="317.2" stroke="#c8102e" stroke-width="1.3"/>
<circle cx="197.80" cy="317.20" r="1.87" fill="#c8102e"/>
<text x="205.9" y="319.7" font-size="7.1" textLength="34.8" lengthAdjust="spacingAndGlyphs" fill="#231f20"><tspan font-style="italic">ptf</tspan><tspan>V</tspan><tspan dy="-0.9">_</tspan><tspan font-style="italic" dy="0.9">hf</tspan><tspan>Va1</tspan></text>
<line x1="193.1" y1="328.9" x2="202.5" y2="328.9" stroke="#1b5191" stroke-width="1.3"/>
<rect x="195.99" y="327.08" width="3.63" height="3.63" fill="#1b5191"/>
<text x="205.9" y="331.4" font-size="7.1" textLength="13.9" lengthAdjust="spacingAndGlyphs" fill="#231f20"><tspan font-style="italic">ptf</tspan><tspan>V</tspan></text>
<line x1="193.1" y1="340.6" x2="202.5" y2="340.6" stroke="#3cb44b" stroke-width="1.3"/>
<path d="M197.80,338.29 L200.00,342.25 L195.60,342.25 Z" fill="#3cb44b"/>
<text x="205.9" y="343.1" font-size="7.1" textLength="41.2" lengthAdjust="spacingAndGlyphs" fill="#231f20"><tspan font-style="italic">ptf</tspan><tspan>V</tspan><tspan dy="-0.9">_</tspan><tspan font-style="italic" dy="0.9">hf</tspan><tspan>VIIIa1</tspan></text>
<line x1="311.2" y1="307.5" x2="311.2" y2="401.15" stroke="#111" stroke-width="1.3"/>
<line x1="307.8" y1="400.65" x2="448.8" y2="400.65" stroke="#111" stroke-width="1.0"/>
<line x1="308.0" y1="400.2" x2="311.0" y2="400.2" stroke="#111" stroke-width="0.9"/>
<text x="305.5" y="403.0" font-size="8.5" text-anchor="end" textLength="11.0" lengthAdjust="spacingAndGlyphs" fill="#231f20">0.0</text>
<line x1="308.0" y1="382.55" x2="311.0" y2="382.55" stroke="#111" stroke-width="0.9"/>
<text x="305.5" y="385.4" font-size="8.5" text-anchor="end" textLength="11.0" lengthAdjust="spacingAndGlyphs" fill="#231f20">0.1</text>
<line x1="308.0" y1="364.9" x2="311.0" y2="364.9" stroke="#111" stroke-width="0.9"/>
<text x="305.5" y="367.7" font-size="8.5" text-anchor="end" textLength="11.0" lengthAdjust="spacingAndGlyphs" fill="#231f20">0.2</text>
<line x1="308.0" y1="347.25" x2="311.0" y2="347.25" stroke="#111" stroke-width="0.9"/>
<text x="305.5" y="350.1" font-size="8.5" text-anchor="end" textLength="11.0" lengthAdjust="spacingAndGlyphs" fill="#231f20">0.3</text>
<line x1="308.0" y1="329.59999999999997" x2="311.0" y2="329.59999999999997" stroke="#111" stroke-width="0.9"/>
<text x="305.5" y="332.4" font-size="8.5" text-anchor="end" textLength="11.0" lengthAdjust="spacingAndGlyphs" fill="#231f20">0.4</text>
<line x1="308.0" y1="311.95" x2="311.0" y2="311.95" stroke="#111" stroke-width="0.9"/>
<text x="305.5" y="314.8" font-size="8.5" text-anchor="end" textLength="11.0" lengthAdjust="spacingAndGlyphs" fill="#231f20">0.5</text>
<line x1="311.20" y1="400.65" x2="311.20" y2="404.25" stroke="#111" stroke-width="0.95"/>
<line x1="315.65" y1="400.65" x2="315.65" y2="403.25" stroke="#111" stroke-width="0.95"/>
<line x1="320.10" y1="400.65" x2="320.10" y2="403.25" stroke="#111" stroke-width="0.95"/>
<line x1="324.55" y1="400.65" x2="324.55" y2="403.25" stroke="#111" stroke-width="0.95"/>
<line x1="329.00" y1="400.65" x2="329.00" y2="403.25" stroke="#111" stroke-width="0.95"/>
<line x1="333.45" y1="400.65" x2="333.45" y2="403.25" stroke="#111" stroke-width="0.95"/>
<line x1="337.90" y1="400.65" x2="337.90" y2="403.25" stroke="#111" stroke-width="0.95"/>
<line x1="342.35" y1="400.65" x2="342.35" y2="403.25" stroke="#111" stroke-width="0.95"/>
<line x1="346.80" y1="400.65" x2="346.80" y2="403.25" stroke="#111" stroke-width="0.95"/>
<line x1="351.25" y1="400.65" x2="351.25" y2="403.25" stroke="#111" stroke-width="0.95"/>
<line x1="355.70" y1="400.65" x2="355.70" y2="404.25" stroke="#111" stroke-width="0.95"/>
<line x1="360.15" y1="400.65" x2="360.15" y2="403.25" stroke="#111" stroke-width="0.95"/>
<line x1="364.60" y1="400.65" x2="364.60" y2="403.25" stroke="#111" stroke-width="0.95"/>
<line x1="369.05" y1="400.65" x2="369.05" y2="403.25" stroke="#111" stroke-width="0.95"/>
<line x1="373.50" y1="400.65" x2="373.50" y2="403.25" stroke="#111" stroke-width="0.95"/>
<line x1="377.95" y1="400.65" x2="377.95" y2="403.25" stroke="#111" stroke-width="0.95"/>
<line x1="382.40" y1="400.65" x2="382.40" y2="403.25" stroke="#111" stroke-width="0.95"/>
<line x1="386.85" y1="400.65" x2="386.85" y2="403.25" stroke="#111" stroke-width="0.95"/>
<line x1="391.30" y1="400.65" x2="391.30" y2="403.25" stroke="#111" stroke-width="0.95"/>
<line x1="395.75" y1="400.65" x2="395.75" y2="403.25" stroke="#111" stroke-width="0.95"/>
<line x1="400.20" y1="400.65" x2="400.20" y2="404.25" stroke="#111" stroke-width="0.95"/>
<line x1="404.65" y1="400.65" x2="404.65" y2="403.25" stroke="#111" stroke-width="0.95"/>
<line x1="409.10" y1="400.65" x2="409.10" y2="403.25" stroke="#111" stroke-width="0.95"/>
<line x1="413.55" y1="400.65" x2="413.55" y2="403.25" stroke="#111" stroke-width="0.95"/>
<line x1="418.00" y1="400.65" x2="418.00" y2="403.25" stroke="#111" stroke-width="0.95"/>
<line x1="422.45" y1="400.65" x2="422.45" y2="403.25" stroke="#111" stroke-width="0.95"/>
<line x1="426.90" y1="400.65" x2="426.90" y2="403.25" stroke="#111" stroke-width="0.95"/>
<line x1="431.35" y1="400.65" x2="431.35" y2="403.25" stroke="#111" stroke-width="0.95"/>
<line x1="435.80" y1="400.65" x2="435.80" y2="403.25" stroke="#111" stroke-width="0.95"/>
<line x1="440.25" y1="400.65" x2="440.25" y2="403.25" stroke="#111" stroke-width="0.95"/>
<line x1="444.70" y1="400.65" x2="444.70" y2="404.25" stroke="#111" stroke-width="0.95"/>
<text x="311.40" y="412.9" font-size="8.3" text-anchor="middle" fill="#231f20">0</text>
<text x="355.90" y="412.9" font-size="8.3" text-anchor="middle" fill="#231f20">20</text>
<text x="400.40" y="412.9" font-size="8.3" text-anchor="middle" fill="#231f20">40</text>
<text x="444.90" y="412.9" font-size="8.3" text-anchor="middle" fill="#231f20">60</text>
<text x="362.0" y="424.8" font-size="10.2" textLength="35.9" lengthAdjust="spacingAndGlyphs" fill="#231f20">Time (min)</text>
<text transform="translate(286.0,375.4) rotate(-90)" font-size="8.6" fill="#231f20" textLength="28.0" lengthAdjust="spacingAndGlyphs">Fraction,</text>
<text transform="translate(287.9,345.0) rotate(-90)" font-size="6.5" fill="#231f20" textLength="13.0" lengthAdjust="spacingAndGlyphs">IIa-H</text>
<path d="M311.00,400.20 L311.19,400.02 L311.38,399.85 L311.57,399.69 L311.75,399.53 L311.94,399.38 L312.13,399.23 L312.32,399.09 L312.51,398.95 L312.70,398.82 L312.89,398.70 L313.07,398.57 L313.26,398.45 L313.45,398.34 L313.64,398.23 L313.83,398.12 L314.02,398.02 L314.21,397.92 L314.39,397.82 L314.58,397.72 L314.77,397.63 L314.96,397.54 L315.15,397.45 L315.34,397.36 L315.53,397.28 L315.71,397.20 L315.90,397.12 L316.09,397.04 L316.28,396.96 L316.47,396.89 L316.66,396.81 L316.85,396.74 L317.03,396.67 L317.22,396.60 L317.41,396.53 L317.60,396.46 L317.79,396.40 L317.98,396.33 L318.17,396.27 L318.35,396.20 L318.54,396.14 L318.73,396.08 L318.92,396.02 L319.11,395.96 L319.30,395.90 L319.49,395.84 L319.67,395.78 L319.86,395.73 L320.05,395.67 L320.24,395.61 L320.43,395.56 L320.62,395.50 L320.81,395.45 L320.99,395.39 L321.18,395.34 L321.37,395.29 L321.56,395.23 L321.75,395.18 L321.94,395.13 L322.12,395.08 L322.12,395.08 L323.15,394.80 L324.18,394.54 L325.21,394.28 L326.24,394.03 L327.27,393.79 L328.30,393.55 L329.32,393.31 L330.35,393.08 L331.38,392.86 L332.41,392.64 L333.44,392.42 L334.47,392.21 L335.49,392.00 L336.52,391.79 L337.55,391.59 L338.58,391.39 L339.61,391.20 L340.64,391.00 L341.66,390.82 L342.69,390.63 L343.72,390.45 L344.75,390.27 L345.78,390.09 L346.81,389.92 L347.83,389.75 L348.86,389.58 L349.89,389.42 L350.92,389.26 L351.95,389.10 L352.98,388.94 L354.00,388.79 L355.03,388.64 L356.06,388.49 L357.09,388.35 L358.12,388.20 L359.15,388.06 L360.17,387.93 L361.20,387.79 L362.23,387.66 L363.26,387.52 L364.29,387.40 L365.32,387.27 L366.34,387.14 L367.37,387.02 L368.40,386.90 L369.43,386.78 L370.46,386.67 L371.49,386.55 L372.51,386.44 L373.54,386.33 L374.57,386.22 L375.60,386.11 L376.63,386.01 L377.66,385.91 L378.68,385.81 L379.71,385.71 L380.74,385.61 L381.77,385.51 L382.80,385.42 L383.83,385.32 L384.86,385.23 L385.88,385.14 L386.91,385.05 L387.94,384.97 L388.97,384.88 L390.00,384.80 L391.03,384.72 L392.05,384.64 L393.08,384.56 L394.11,384.48 L395.14,384.40 L396.17,384.32 L397.20,384.25 L398.22,384.18 L399.25,384.11 L400.28,384.04 L401.31,383.97 L402.34,383.90 L403.37,383.83 L404.39,383.76 L405.42,383.70 L406.45,383.64 L407.48,383.57 L408.51,383.51 L409.54,383.45 L410.56,383.39 L411.59,383.33 L412.62,383.28 L413.65,383.22 L414.68,383.16 L415.71,383.11 L416.73,383.06 L417.76,383.00 L418.79,382.95 L419.82,382.90 L420.85,382.85 L421.88,382.80 L422.90,382.75 L423.93,382.71 L424.96,382.66 L425.99,382.61 L427.02,382.57 L428.05,382.52 L429.07,382.48 L430.10,382.44 L431.13,382.40 L432.16,382.35 L433.19,382.31 L434.22,382.27 L435.24,382.23 L436.27,382.20 L437.30,382.16 L438.33,382.12 L439.36,382.08 L440.39,382.05 L441.41,382.01 L442.44,381.98 L443.47,381.94 L444.50,381.91" fill="none" stroke="#3cb44b" stroke-width="1.35" stroke-linejoin="round"/>
<path d="M311.00,398.10 L313.00,401.70 L309.00,401.70 Z" fill="#3cb44b"/>
<path d="M312.11,397.40 L314.11,401.00 L310.11,401.00 Z" fill="#3cb44b"/>
<path d="M313.23,396.40 L315.23,400.00 L311.23,400.00 Z" fill="#3cb44b"/>
<path d="M314.34,395.50 L316.34,399.10 L312.34,399.10 Z" fill="#3cb44b"/>
<path d="M315.45,395.00 L317.45,398.60 L313.45,398.60 Z" fill="#3cb44b"/>
<path d="M316.56,394.70 L318.56,398.30 L314.56,398.30 Z" fill="#3cb44b"/>
<path d="M317.68,394.40 L319.68,398.00 L315.68,398.00 Z" fill="#3cb44b"/>
<path d="M322.12,392.90 L324.12,396.50 L320.12,396.50 Z" fill="#3cb44b"/>
<path d="M333.25,391.10 L335.25,394.70 L331.25,394.70 Z" fill="#3cb44b"/>
<path d="M344.38,387.90 L346.38,391.50 L342.38,391.50 Z" fill="#3cb44b"/>
<path d="M377.75,383.60 L379.75,387.20 L375.75,387.20 Z" fill="#3cb44b"/>
<path d="M444.50,379.90 L446.50,383.50 L442.50,383.50 Z" fill="#3cb44b"/>
<path d="M311.00,400.20 L311.19,399.55 L311.38,398.93 L311.57,398.34 L311.75,397.77 L311.94,397.23 L312.13,396.71 L312.32,396.21 L312.51,395.74 L312.70,395.28 L312.89,394.84 L313.07,394.42 L313.26,394.02 L313.45,393.63 L313.64,393.25 L313.83,392.89 L314.02,392.55 L314.21,392.21 L314.39,391.89 L314.58,391.58 L314.77,391.27 L314.96,390.98 L315.15,390.70 L315.34,390.43 L315.53,390.16 L315.71,389.90 L315.90,389.65 L316.09,389.41 L316.28,389.17 L316.47,388.94 L316.66,388.72 L316.85,388.50 L317.03,388.29 L317.22,388.08 L317.41,387.88 L317.60,387.68 L317.79,387.49 L317.98,387.30 L318.17,387.11 L318.35,386.93 L318.54,386.75 L318.73,386.57 L318.92,386.40 L319.11,386.23 L319.30,386.07 L319.49,385.90 L319.67,385.74 L319.86,385.58 L320.05,385.43 L320.24,385.27 L320.43,385.12 L320.62,384.97 L320.81,384.82 L320.99,384.68 L321.18,384.53 L321.37,384.39 L321.56,384.25 L321.75,384.11 L321.94,383.97 L322.12,383.84 L322.12,383.84 L323.15,383.12 L324.18,382.43 L325.21,381.78 L326.24,381.14 L327.27,380.53 L328.30,379.94 L329.32,379.36 L330.35,378.80 L331.38,378.25 L332.41,377.71 L333.44,377.19 L334.47,376.68 L335.49,376.18 L336.52,375.69 L337.55,375.22 L338.58,374.75 L339.61,374.29 L340.64,373.84 L341.66,373.41 L342.69,372.98 L343.72,372.56 L344.75,372.15 L345.78,371.75 L346.81,371.36 L347.83,370.98 L348.86,370.60 L349.89,370.23 L350.92,369.88 L351.95,369.52 L352.98,369.18 L354.00,368.84 L355.03,368.51 L356.06,368.19 L357.09,367.88 L358.12,367.57 L359.15,367.27 L360.17,366.97 L361.20,366.68 L362.23,366.40 L363.26,366.12 L364.29,365.85 L365.32,365.59 L366.34,365.33 L367.37,365.07 L368.40,364.83 L369.43,364.58 L370.46,364.35 L371.49,364.11 L372.51,363.89 L373.54,363.66 L374.57,363.45 L375.60,363.23 L376.63,363.03 L377.66,362.82 L378.68,362.62 L379.71,362.43 L380.74,362.24 L381.77,362.05 L382.80,361.87 L383.83,361.69 L384.86,361.51 L385.88,361.34 L386.91,361.17 L387.94,361.01 L388.97,360.85 L390.00,360.69 L391.03,360.54 L392.05,360.39 L393.08,360.24 L394.11,360.10 L395.14,359.95 L396.17,359.82 L397.20,359.68 L398.22,359.55 L399.25,359.42 L400.28,359.29 L401.31,359.17 L402.34,359.05 L403.37,358.93 L404.39,358.82 L405.42,358.70 L406.45,358.59 L407.48,358.48 L408.51,358.38 L409.54,358.27 L410.56,358.17 L411.59,358.07 L412.62,357.98 L413.65,357.88 L414.68,357.79 L415.71,357.70 L416.73,357.61 L417.76,357.52 L418.79,357.43 L419.82,357.35 L420.85,357.27 L421.88,357.19 L422.90,357.11 L423.93,357.03 L424.96,356.96 L425.99,356.89 L427.02,356.81 L428.05,356.74 L429.07,356.67 L430.10,356.61 L431.13,356.54 L432.16,356.48 L433.19,356.41 L434.22,356.35 L435.24,356.29 L436.27,356.23 L437.30,356.18 L438.33,356.12 L439.36,356.06 L440.39,356.01 L441.41,355.96 L442.44,355.91 L443.47,355.86 L444.50,355.81" fill="none" stroke="#1b5191" stroke-width="1.35" stroke-linejoin="round"/>
<rect x="309.35" y="398.55" width="3.30" height="3.30" fill="#1b5191"/>
<rect x="310.46" y="395.85" width="3.30" height="3.30" fill="#1b5191"/>
<rect x="311.58" y="392.75" width="3.30" height="3.30" fill="#1b5191"/>
<rect x="312.69" y="389.65" width="3.30" height="3.30" fill="#1b5191"/>
<rect x="313.80" y="387.85" width="3.30" height="3.30" fill="#1b5191"/>
<rect x="314.91" y="386.85" width="3.30" height="3.30" fill="#1b5191"/>
<rect x="316.03" y="385.95" width="3.30" height="3.30" fill="#1b5191"/>
<rect x="320.48" y="383.55" width="3.30" height="3.30" fill="#1b5191"/>
<rect x="331.60" y="375.05" width="3.30" height="3.30" fill="#1b5191"/>
<rect x="342.73" y="371.15" width="3.30" height="3.30" fill="#1b5191"/>
<rect x="376.10" y="360.65" width="3.30" height="3.30" fill="#1b5191"/>
<rect x="442.85" y="354.35" width="3.30" height="3.30" fill="#1b5191"/>
<path d="M311.00,400.20 L311.19,398.84 L311.38,397.55 L311.57,396.32 L311.75,395.14 L311.94,394.02 L312.13,392.95 L312.32,391.93 L312.51,390.95 L312.70,390.01 L312.89,389.12 L313.07,388.27 L313.26,387.45 L313.45,386.66 L313.64,385.91 L313.83,385.19 L314.02,384.49 L314.21,383.83 L314.39,383.19 L314.58,382.57 L314.77,381.98 L314.96,381.41 L315.15,380.85 L315.34,380.32 L315.53,379.81 L315.71,379.31 L315.90,378.83 L316.09,378.37 L316.28,377.92 L316.47,377.48 L316.66,377.06 L316.85,376.64 L317.03,376.25 L317.22,375.86 L317.41,375.48 L317.60,375.11 L317.79,374.75 L317.98,374.41 L318.17,374.07 L318.35,373.73 L318.54,373.41 L318.73,373.09 L318.92,372.78 L319.11,372.48 L319.30,372.18 L319.49,371.89 L319.67,371.60 L319.86,371.32 L320.05,371.05 L320.24,370.78 L320.43,370.51 L320.62,370.25 L320.81,369.99 L320.99,369.74 L321.18,369.49 L321.37,369.25 L321.56,369.00 L321.75,368.77 L321.94,368.53 L322.12,368.30 L322.12,368.30 L323.15,367.08 L324.18,365.94 L325.21,364.85 L326.24,363.82 L327.27,362.83 L328.30,361.87 L329.32,360.95 L330.35,360.06 L331.38,359.19 L332.41,358.35 L333.44,357.54 L334.47,356.75 L335.49,355.98 L336.52,355.23 L337.55,354.50 L338.58,353.80 L339.61,353.11 L340.64,352.44 L341.66,351.78 L342.69,351.15 L343.72,350.53 L344.75,349.93 L345.78,349.34 L346.81,348.77 L347.83,348.22 L348.86,347.68 L349.89,347.15 L350.92,346.64 L351.95,346.14 L352.98,345.66 L354.00,345.19 L355.03,344.73 L356.06,344.28 L357.09,343.84 L358.12,343.42 L359.15,343.01 L360.17,342.60 L361.20,342.21 L362.23,341.83 L363.26,341.46 L364.29,341.10 L365.32,340.75 L366.34,340.41 L367.37,340.07 L368.40,339.75 L369.43,339.43 L370.46,339.12 L371.49,338.83 L372.51,338.53 L373.54,338.25 L374.57,337.97 L375.60,337.71 L376.63,337.44 L377.66,337.19 L378.68,336.94 L379.71,336.70 L380.74,336.46 L381.77,336.24 L382.80,336.01 L383.83,335.80 L384.86,335.58 L385.88,335.38 L386.91,335.18 L387.94,334.98 L388.97,334.79 L390.00,334.61 L391.03,334.43 L392.05,334.26 L393.08,334.09 L394.11,333.92 L395.14,333.76 L396.17,333.60 L397.20,333.45 L398.22,333.30 L399.25,333.15 L400.28,333.01 L401.31,332.88 L402.34,332.74 L403.37,332.61 L404.39,332.48 L405.42,332.36 L406.45,332.24 L407.48,332.12 L408.51,332.01 L409.54,331.90 L410.56,331.79 L411.59,331.69 L412.62,331.58 L413.65,331.48 L414.68,331.39 L415.71,331.29 L416.73,331.20 L417.76,331.11 L418.79,331.03 L419.82,330.94 L420.85,330.86 L421.88,330.78 L422.90,330.70 L423.93,330.62 L424.96,330.55 L425.99,330.48 L427.02,330.41 L428.05,330.34 L429.07,330.27 L430.10,330.21 L431.13,330.14 L432.16,330.08 L433.19,330.02 L434.22,329.96 L435.24,329.91 L436.27,329.85 L437.30,329.80 L438.33,329.75 L439.36,329.70 L440.39,329.65 L441.41,329.60 L442.44,329.55 L443.47,329.51 L444.50,329.46" fill="none" stroke="#c8102e" stroke-width="1.35" stroke-linejoin="round"/>
<circle cx="311.00" cy="400.20" r="1.70" fill="#c8102e"/>
<circle cx="312.11" cy="387.50" r="1.70" fill="#c8102e"/>
<circle cx="313.23" cy="386.50" r="1.70" fill="#c8102e"/>
<circle cx="314.34" cy="382.50" r="1.70" fill="#c8102e"/>
<circle cx="315.45" cy="380.30" r="1.70" fill="#c8102e"/>
<circle cx="316.56" cy="378.50" r="1.70" fill="#c8102e"/>
<circle cx="317.68" cy="376.60" r="1.70" fill="#c8102e"/>
<circle cx="322.12" cy="369.80" r="1.70" fill="#c8102e"/>
<circle cx="333.25" cy="357.00" r="1.70" fill="#c8102e"/>
<circle cx="344.38" cy="348.70" r="1.70" fill="#c8102e"/>
<circle cx="377.75" cy="338.20" r="1.70" fill="#c8102e"/>
<circle cx="444.50" cy="329.20" r="1.70" fill="#c8102e"/>
<line x1="458.8" y1="316.9" x2="468.5" y2="316.9" stroke="#c8102e" stroke-width="1.3"/>
<circle cx="463.65" cy="316.90" r="1.87" fill="#c8102e"/>
<text x="471.5" y="319.4" font-size="7.1" textLength="34.8" lengthAdjust="spacingAndGlyphs" fill="#231f20"><tspan font-style="italic">ptf</tspan><tspan>V</tspan><tspan dy="-0.9">_</tspan><tspan font-style="italic" dy="0.9">hf</tspan><tspan>Va1</tspan></text>
<line x1="458.8" y1="328.9" x2="468.5" y2="328.9" stroke="#1b5191" stroke-width="1.3"/>
<rect x="461.83" y="327.08" width="3.63" height="3.63" fill="#1b5191"/>
<text x="471.5" y="331.4" font-size="7.1" textLength="13.9" lengthAdjust="spacingAndGlyphs" fill="#231f20"><tspan font-style="italic">ptf</tspan><tspan>V</tspan></text>
<line x1="458.8" y1="341.0" x2="468.5" y2="341.0" stroke="#3cb44b" stroke-width="1.3"/>
<path d="M463.65,338.69 L465.85,342.65 L461.45,342.65 Z" fill="#3cb44b"/>
<text x="471.5" y="343.5" font-size="7.1" textLength="41.2" lengthAdjust="spacingAndGlyphs" fill="#231f20"><tspan font-style="italic">ptf</tspan><tspan>V</tspan><tspan dy="-0.9">_</tspan><tspan font-style="italic" dy="0.9">hf</tspan><tspan>VIIIa1</tspan></text>
<rect x="0.5" y="0.5" width="518.8" height="430.8" fill="none" stroke="#000" stroke-width="1.2"/>
</svg></body></html>
